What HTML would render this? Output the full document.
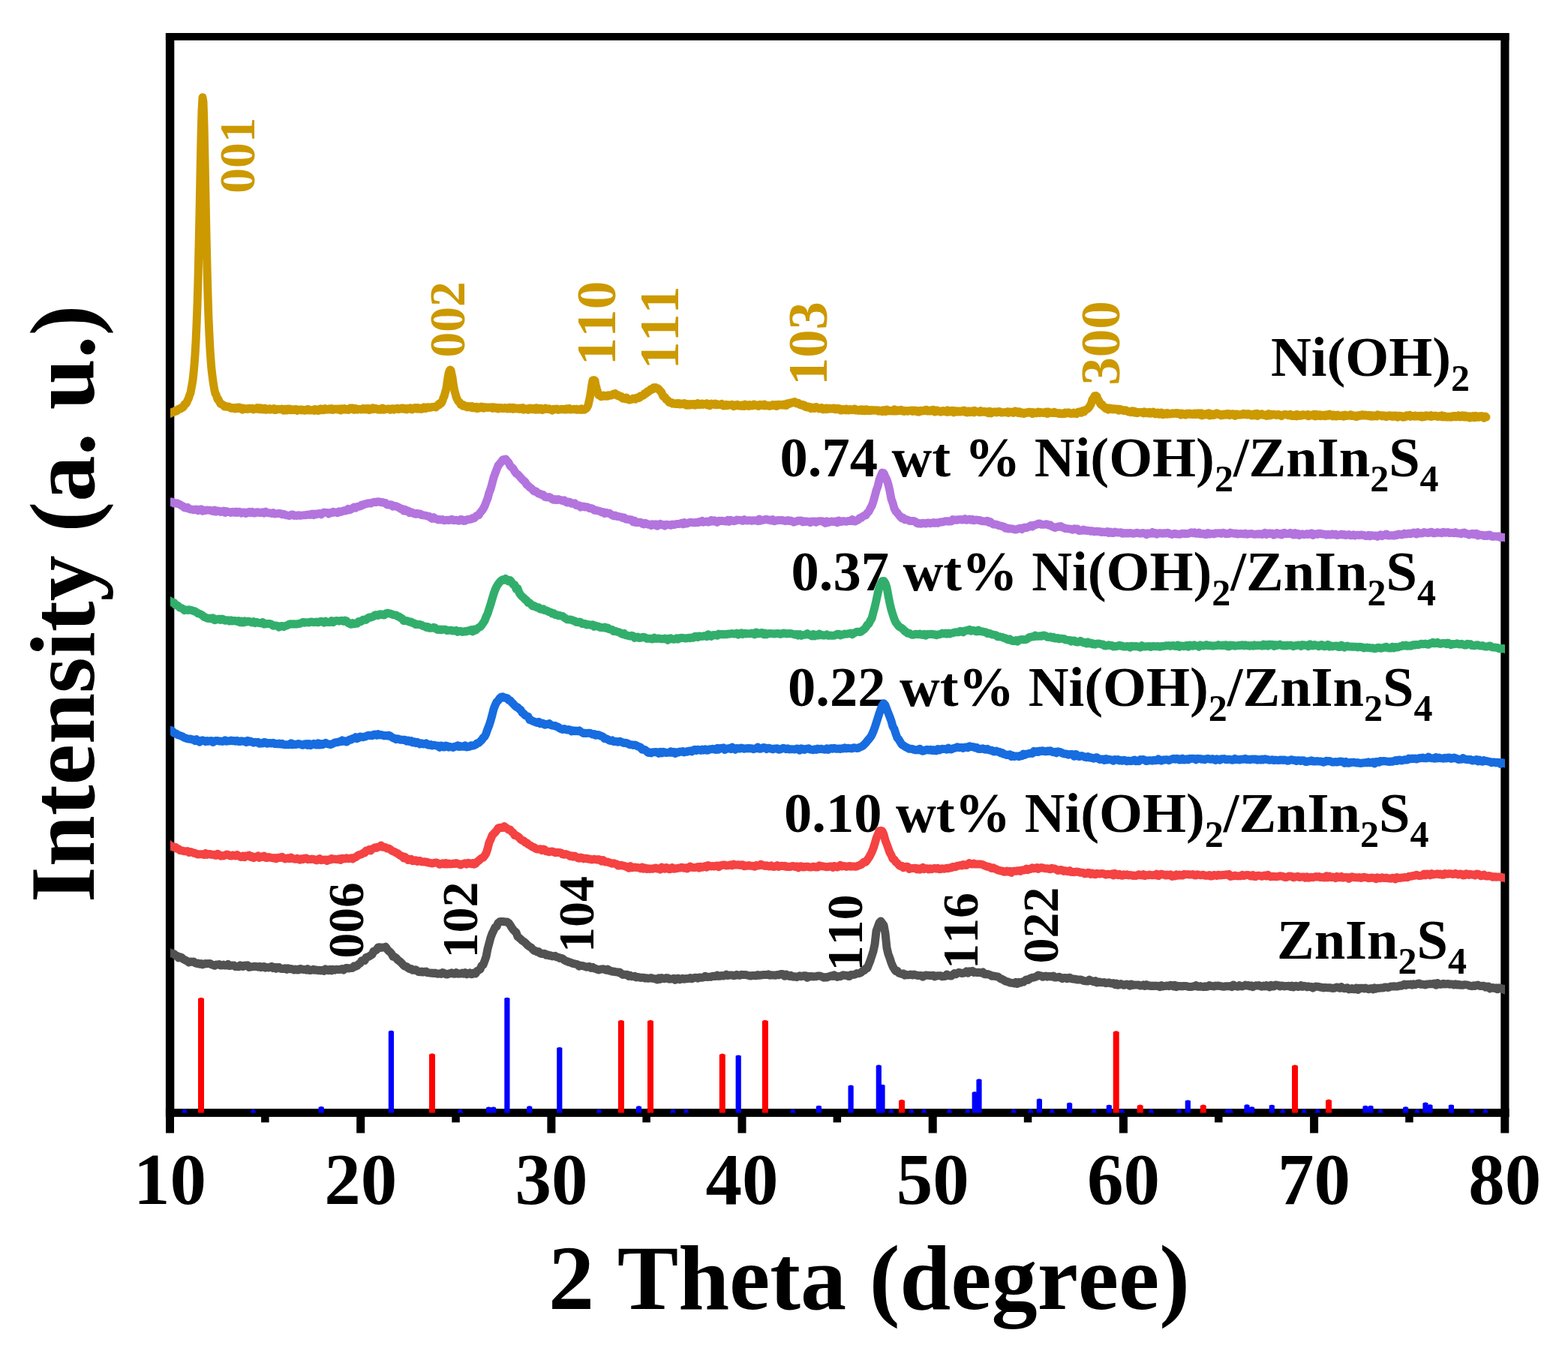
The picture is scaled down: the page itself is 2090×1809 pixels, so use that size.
<!DOCTYPE html>
<html><head><meta charset="utf-8"><title>XRD patterns of Ni(OH)2/ZnIn2S4</title>
<style>
html,body{margin:0;padding:0;background:#fff;width:2090px;height:1809px;overflow:hidden}
svg{display:block}
text{font-family:"Liberation Serif","Times New Roman",serif;font-weight:bold;font-kerning:none}
</style></head><body>
<svg width="2090" height="1809" viewBox="0 0 2090 1809" xmlns="http://www.w3.org/2000/svg">
<rect width="2090" height="1809" fill="#fff"/>
<g font-size="97" text-anchor="middle">
<text x="226.5" y="1605">10</text>
<text x="480.7" y="1605">20</text>
<text x="734.9" y="1605">30</text>
<text x="989" y="1605">40</text>
<text x="1243.2" y="1605">50</text>
<text x="1497.4" y="1605">60</text>
<text x="1751.6" y="1605">70</text>
<text x="2005.8" y="1605">80</text>
</g>
<text x="731" y="1745" font-size="122.2">2 Theta (degree)</text>
<text transform="translate(125.4,1203) rotate(-90)" font-size="122.5">Intensity (a. u.)</text>
<g font-size="74.5">
<text x="1694" y="500.6">Ni(OH)<tspan font-size="50" dy="20">2</tspan></text>
<text x="1039.5" y="635">0.74 wt % Ni(OH)<tspan font-size="50" dy="20">2</tspan><tspan dy="-20">/ZnIn</tspan><tspan font-size="50" dy="20">2</tspan><tspan dy="-20">S</tspan><tspan font-size="50" dy="20">4</tspan></text>
<text x="1054.5" y="787">0.37 wt% Ni(OH)<tspan font-size="50" dy="20">2</tspan><tspan dy="-20">/ZnIn</tspan><tspan font-size="50" dy="20">2</tspan><tspan dy="-20">S</tspan><tspan font-size="50" dy="20">4</tspan></text>
<text x="1050" y="941">0.22 wt% Ni(OH)<tspan font-size="50" dy="20">2</tspan><tspan dy="-20">/ZnIn</tspan><tspan font-size="50" dy="20">2</tspan><tspan dy="-20">S</tspan><tspan font-size="50" dy="20">4</tspan></text>
<text x="1045" y="1108.7">0.10 wt% Ni(OH)<tspan font-size="50" dy="20">2</tspan><tspan dy="-20">/ZnIn</tspan><tspan font-size="50" dy="20">2</tspan><tspan dy="-20">S</tspan><tspan font-size="50" dy="20">4</tspan></text>
<text x="1702" y="1278">ZnIn<tspan font-size="50" dy="20">2</tspan><tspan dy="-20">S</tspan><tspan font-size="50" dy="20">4</tspan></text>
</g>
<g fill="#CC9900">
<text transform="translate(338.5,257.7) rotate(-90)" font-size="67.5">001</text>
<text transform="translate(618.5,476.4) rotate(-90)" font-size="67.5">002</text>
<text transform="translate(819.5,487.2) rotate(-90)" font-size="75">110</text>
<text transform="translate(904.4,492.6) rotate(-90)" font-size="74">111</text>
<text transform="translate(1101.5,514.1) rotate(-90)" font-size="74.5">103</text>
<text transform="translate(1491.7,513.7) rotate(-90)" font-size="75">300</text>
</g>
<g fill="#000">
<text transform="translate(484,1277.4) rotate(-90)" font-size="67.5">006</text>
<text transform="translate(635.5,1277.5) rotate(-90)" font-size="68">102</text>
<text transform="translate(791,1270.1) rotate(-90)" font-size="68">104</text>
<text transform="translate(1148.5,1294.5) rotate(-90)" font-size="68">110</text>
<text transform="translate(1303,1292.1) rotate(-90)" font-size="68">116</text>
<text transform="translate(1410,1284.6) rotate(-90)" font-size="68">022</text>
</g>
<g fill="#000">
<rect x="220.9" y="44" width="1790.6" height="9.8"/>
<rect x="220.9" y="1478" width="1790.6" height="10.9"/>
<rect x="220.9" y="44" width="11.4" height="1444.9"/>
<rect x="2000.3" y="44" width="11.2" height="1444.9"/>
</g>
<g fill="#000">
<rect x="221" y="1486" width="11" height="24.5"/>
<rect x="475.2" y="1486" width="11" height="24.5"/>
<rect x="729.4" y="1486" width="11" height="24.5"/>
<rect x="983.5" y="1486" width="11" height="24.5"/>
<rect x="1237.7" y="1486" width="11" height="24.5"/>
<rect x="1491.9" y="1486" width="11" height="24.5"/>
<rect x="1746.1" y="1486" width="11" height="24.5"/>
<rect x="2000.3" y="1486" width="11" height="24.5"/>
<rect x="348.1" y="1486" width="10.5" height="10.3"/>
<rect x="602.3" y="1486" width="10.5" height="10.3"/>
<rect x="856.4" y="1486" width="10.5" height="10.3"/>
<rect x="1110.6" y="1486" width="10.5" height="10.3"/>
<rect x="1364.8" y="1486" width="10.5" height="10.3"/>
<rect x="1619.0" y="1486" width="10.5" height="10.3"/>
<rect x="1873.2" y="1486" width="10.5" height="10.3"/>
</g>
<clipPath id="pc"><rect x="227" y="0" width="1779" height="1809"/></clipPath>
<g fill="none" stroke-width="11" stroke-linejoin="round" stroke-linecap="round" clip-path="url(#pc)">
<path d="M220.0 551.9L221.0 551.9L222.0 551.3L223.0 550.6L224.0 550.7L225.0 550.1L226.0 550.6L227.0 551.3L228.0 549.7L229.0 549.4L230.0 549.8L231.0 549.5L232.0 549.0L233.0 547.9L234.0 548.2L235.0 548.3L236.0 546.5L237.0 546.7L238.0 545.3L239.0 545.2L240.0 544.3L241.0 544.8L242.0 543.4L243.0 543.7L244.0 542.8L245.0 541.6L246.0 539.1L247.0 539.1L248.0 538.0L249.0 536.5L250.0 533.5L251.0 532.0L252.0 529.1L253.0 526.1L254.0 523.7L255.0 517.9L256.0 512.9L257.0 506.6L258.0 497.1L259.0 486.6L260.0 473.2L261.0 456.0L262.0 433.4L263.0 406.9L264.0 373.7L265.0 330.5L266.0 284.5L267.0 232.7L268.0 183.5L269.0 147.9L270.0 129.8L271.0 135.9L272.0 167.0L273.0 212.6L274.0 263.1L275.0 313.3L276.0 356.6L277.0 394.0L278.0 424.4L279.0 446.7L280.0 466.1L281.0 480.5L282.0 492.6L283.0 500.9L284.0 508.7L285.0 514.9L286.0 520.5L287.0 524.6L288.0 526.0L289.0 529.0L290.0 532.2L291.0 532.2L292.0 534.8L293.0 536.3L294.0 538.4L295.0 538.9L296.0 539.0L297.0 539.6L298.0 540.3L299.0 542.0L300.0 541.1L301.0 541.5L302.0 542.3L303.0 542.3L304.0 542.5L305.0 542.0L306.0 543.0L307.0 542.9L308.0 544.2L309.0 543.9L310.0 543.6L311.0 544.2L312.0 543.6L313.0 544.7L314.0 544.0L315.0 544.5L316.0 543.3L317.0 544.5L318.0 543.2L319.0 543.0L320.0 544.3L321.0 543.9L322.0 544.7L323.0 546.2L324.0 544.1L325.0 544.3L326.0 544.9L327.0 545.2L328.0 544.7L329.0 544.7L330.0 545.4L331.0 545.3L332.0 544.3L333.0 544.9L334.0 545.0L335.0 544.3L336.0 545.2L337.0 544.5L338.0 545.8L339.0 545.3L340.0 545.2L341.0 544.7L342.0 545.1L343.0 543.8L344.0 544.4L345.0 545.5L346.0 543.7L347.0 545.8L348.0 544.0L349.0 545.8L350.0 544.7L351.0 545.8L352.0 545.4L353.0 544.2L354.0 546.2L355.0 546.3L356.0 545.3L357.0 545.2L358.0 545.3L359.0 544.7L360.0 546.2L361.0 545.1L362.0 545.5L363.0 545.0L364.0 545.1L365.0 544.7L366.0 546.5L367.0 545.5L368.0 546.3L369.0 545.7L370.0 545.2L371.0 545.5L372.0 545.4L373.0 545.8L374.0 545.6L375.0 545.7L376.0 545.0L377.0 545.4L378.0 547.2L379.0 545.6L380.0 545.3L381.0 546.3L382.0 547.1L383.0 545.1L384.0 546.0L385.0 545.8L386.0 545.0L387.0 546.8L388.0 546.3L389.0 546.4L390.0 545.8L391.0 546.7L392.0 546.0L393.0 546.3L394.0 545.6L395.0 545.6L396.0 547.4L397.0 546.1L398.0 546.6L399.0 546.4L400.0 546.1L401.0 546.1L402.0 546.9L403.0 546.2L404.0 546.3L405.0 546.5L406.0 547.3L407.0 546.9L408.0 546.7L409.0 546.0L410.0 545.4L411.0 547.1L412.0 547.1L413.0 546.3L414.0 546.8L415.0 546.9L416.0 546.9L417.0 547.0L418.0 546.0L419.0 547.4L420.0 545.4L421.0 546.9L422.0 546.6L423.0 546.9L424.0 547.6L425.0 547.3L426.0 545.4L427.0 545.0L428.0 546.8L429.0 545.5L430.0 546.1L431.0 546.7L432.0 545.0L433.0 544.6L434.0 546.3L435.0 546.1L436.0 545.9L437.0 546.0L438.0 545.4L439.0 544.9L440.0 545.8L441.0 545.3L442.0 544.8L443.0 546.3L444.0 545.8L445.0 546.1L446.0 545.2L447.0 545.4L448.0 545.1L449.0 545.2L450.0 545.9L451.0 545.2L452.0 546.0L453.0 546.0L454.0 547.1L455.0 544.7L456.0 546.3L457.0 545.6L458.0 545.6L459.0 544.6L460.0 545.3L461.0 546.1L462.0 545.5L463.0 545.6L464.0 545.3L465.0 546.3L466.0 545.5L467.0 544.0L468.0 545.0L469.0 544.1L470.0 543.9L471.0 545.1L472.0 546.4L473.0 545.5L474.0 544.6L475.0 544.8L476.0 546.2L477.0 545.5L478.0 545.4L479.0 545.4L480.0 545.4L481.0 546.0L482.0 545.8L483.0 545.5L484.0 544.6L485.0 545.7L486.0 544.9L487.0 546.1L488.0 544.5L489.0 545.2L490.0 545.3L491.0 544.4L492.0 546.5L493.0 546.3L494.0 545.0L495.0 545.8L496.0 545.6L497.0 543.7L498.0 545.5L499.0 545.2L500.0 545.3L501.0 544.5L502.0 545.1L503.0 545.1L504.0 546.1L505.0 545.5L506.0 545.2L507.0 546.3L508.0 544.8L509.0 544.9L510.0 543.9L511.0 546.3L512.0 545.9L513.0 545.8L514.0 545.7L515.0 545.3L516.0 545.3L517.0 545.0L518.0 545.0L519.0 545.2L520.0 546.2L521.0 545.5L522.0 545.1L523.0 544.7L524.0 544.7L525.0 546.2L526.0 545.4L527.0 545.1L528.0 544.8L529.0 544.3L530.0 545.0L531.0 545.6L532.0 544.7L533.0 544.9L534.0 544.8L535.0 545.1L536.0 543.9L537.0 544.8L538.0 544.3L539.0 545.5L540.0 544.4L541.0 545.3L542.0 545.9L543.0 544.6L544.0 544.4L545.0 544.9L546.0 544.8L547.0 544.0L548.0 545.0L549.0 546.1L550.0 544.4L551.0 544.4L552.0 543.8L553.0 544.7L554.0 543.6L555.0 543.6L556.0 545.2L557.0 543.6L558.0 545.0L559.0 545.2L560.0 544.3L561.0 544.4L562.0 545.4L563.0 543.8L564.0 543.5L565.0 542.9L566.0 543.8L567.0 544.7L568.0 544.3L569.0 542.9L570.0 542.8L571.0 543.0L572.0 543.5L573.0 543.0L574.0 543.2L575.0 543.1L576.0 542.6L577.0 542.6L578.0 542.6L579.0 542.2L580.0 542.3L581.0 543.0L582.0 541.7L583.0 540.9L584.0 539.2L585.0 540.1L586.0 537.7L587.0 537.1L588.0 537.6L589.0 536.1L590.0 533.7L591.0 530.3L592.0 528.5L593.0 524.8L594.0 521.4L595.0 517.4L596.0 510.2L597.0 503.5L598.0 497.7L599.0 494.6L600.0 493.1L601.0 493.8L602.0 498.6L603.0 503.2L604.0 510.8L605.0 516.5L606.0 521.6L607.0 524.8L608.0 528.9L609.0 531.3L610.0 533.3L611.0 535.1L612.0 535.8L613.0 536.9L614.0 539.3L615.0 539.4L616.0 540.2L617.0 541.3L618.0 539.8L619.0 540.8L620.0 541.7L621.0 542.1L622.0 541.7L623.0 542.9L624.0 542.5L625.0 541.6L626.0 541.9L627.0 543.2L628.0 543.1L629.0 541.5L630.0 543.8L631.0 543.3L632.0 543.9L633.0 542.7L634.0 542.8L635.0 542.3L636.0 544.7L637.0 543.0L638.0 544.3L639.0 542.8L640.0 543.4L641.0 542.1L642.0 543.1L643.0 544.0L644.0 542.5L645.0 544.2L646.0 543.7L647.0 542.7L648.0 543.1L649.0 543.2L650.0 543.5L651.0 543.2L652.0 543.0L653.0 543.4L654.0 542.9L655.0 542.8L656.0 543.7L657.0 544.4L658.0 542.7L659.0 543.8L660.0 543.4L661.0 543.2L662.0 544.5L663.0 543.6L664.0 545.0L665.0 543.4L666.0 544.3L667.0 543.9L668.0 543.6L669.0 544.5L670.0 544.0L671.0 544.6L672.0 544.2L673.0 543.5L674.0 544.2L675.0 544.3L676.0 545.0L677.0 543.7L678.0 544.4L679.0 543.2L680.0 544.9L681.0 543.7L682.0 543.3L683.0 544.5L684.0 545.4L685.0 543.5L686.0 543.9L687.0 544.1L688.0 543.9L689.0 545.0L690.0 544.2L691.0 544.3L692.0 545.2L693.0 544.3L694.0 545.2L695.0 544.2L696.0 544.0L697.0 543.6L698.0 546.2L699.0 544.7L700.0 545.2L701.0 545.0L702.0 545.1L703.0 545.1L704.0 546.4L705.0 544.4L706.0 544.0L707.0 544.4L708.0 544.2L709.0 545.7L710.0 545.8L711.0 544.5L712.0 544.3L713.0 545.0L714.0 546.3L715.0 543.7L716.0 545.7L717.0 544.6L718.0 546.1L719.0 544.6L720.0 545.2L721.0 544.4L722.0 544.8L723.0 546.5L724.0 546.1L725.0 545.2L726.0 544.9L727.0 544.2L728.0 545.3L729.0 545.6L730.0 545.6L731.0 545.6L732.0 544.9L733.0 545.6L734.0 545.7L735.0 546.6L736.0 547.1L737.0 545.7L738.0 545.2L739.0 545.8L740.0 545.4L741.0 545.3L742.0 545.8L743.0 545.1L744.0 546.3L745.0 545.8L746.0 546.1L747.0 545.8L748.0 545.4L749.0 545.3L750.0 545.8L751.0 545.6L752.0 546.1L753.0 546.0L754.0 545.0L755.0 546.0L756.0 545.0L757.0 545.6L758.0 545.8L759.0 544.5L760.0 546.1L761.0 546.1L762.0 545.9L763.0 545.7L764.0 545.7L765.0 545.3L766.0 545.8L767.0 545.6L768.0 546.1L769.0 545.2L770.0 546.2L771.0 546.1L772.0 545.9L773.0 545.7L774.0 546.4L775.0 544.8L776.0 546.3L777.0 546.2L778.0 546.2L779.0 546.3L780.0 545.2L781.0 544.7L782.0 544.0L783.0 542.2L784.0 540.1L785.0 535.4L786.0 531.2L787.0 525.8L788.0 519.3L789.0 512.4L790.0 507.1L791.0 506.7L792.0 506.8L793.0 507.4L794.0 513.2L795.0 517.1L796.0 520.5L797.0 523.6L798.0 526.9L799.0 526.7L800.0 527.5L801.0 528.7L802.0 528.8L803.0 527.7L804.0 527.8L805.0 527.1L806.0 527.5L807.0 528.2L808.0 528.1L809.0 527.7L810.0 528.1L811.0 526.7L812.0 527.0L813.0 527.3L814.0 526.9L815.0 527.0L816.0 526.2L817.0 525.5L818.0 525.8L819.0 524.8L820.0 524.5L821.0 526.4L822.0 526.4L823.0 527.3L824.0 526.6L825.0 528.2L826.0 528.7L827.0 529.0L828.0 528.4L829.0 530.0L830.0 531.2L831.0 531.1L832.0 530.6L833.0 531.3L834.0 532.0L835.0 530.0L836.0 531.7L837.0 532.3L838.0 532.5L839.0 533.2L840.0 532.8L841.0 532.1L842.0 532.0L843.0 532.2L844.0 531.1L845.0 531.2L846.0 531.7L847.0 532.2L848.0 530.4L849.0 530.2L850.0 530.1L851.0 530.6L852.0 529.3L853.0 529.9L854.0 527.8L855.0 527.8L856.0 527.2L857.0 527.3L858.0 526.9L859.0 524.5L860.0 524.4L861.0 524.6L862.0 523.1L863.0 521.7L864.0 522.6L865.0 521.4L866.0 520.6L867.0 519.2L868.0 519.7L869.0 518.3L870.0 518.7L871.0 516.8L872.0 516.5L873.0 517.1L874.0 516.6L875.0 517.9L876.0 518.0L877.0 517.8L878.0 519.0L879.0 519.6L880.0 521.6L881.0 521.9L882.0 523.5L883.0 526.2L884.0 528.3L885.0 529.4L886.0 529.2L887.0 530.5L888.0 532.7L889.0 532.8L890.0 533.4L891.0 535.2L892.0 536.4L893.0 536.3L894.0 536.2L895.0 536.6L896.0 538.2L897.0 537.2L898.0 537.8L899.0 538.1L900.0 538.4L901.0 537.8L902.0 538.5L903.0 537.6L904.0 538.0L905.0 537.6L906.0 539.1L907.0 538.4L908.0 537.9L909.0 538.2L910.0 538.4L911.0 539.0L912.0 537.5L913.0 537.9L914.0 538.4L915.0 540.3L916.0 539.4L917.0 538.6L918.0 539.2L919.0 540.2L920.0 538.6L921.0 538.5L922.0 539.7L923.0 539.2L924.0 539.3L925.0 538.5L926.0 540.2L927.0 540.1L928.0 539.3L929.0 539.5L930.0 537.6L931.0 539.5L932.0 538.9L933.0 539.4L934.0 539.6L935.0 538.9L936.0 538.0L937.0 539.4L938.0 538.7L939.0 539.0L940.0 538.8L941.0 539.0L942.0 537.7L943.0 540.1L944.0 539.5L945.0 540.1L946.0 540.7L947.0 539.4L948.0 538.1L949.0 538.8L950.0 538.6L951.0 539.1L952.0 539.5L953.0 538.1L954.0 539.7L955.0 538.4L956.0 539.7L957.0 539.5L958.0 539.3L959.0 539.5L960.0 539.2L961.0 539.2L962.0 538.5L963.0 539.6L964.0 541.0L965.0 541.1L966.0 540.7L967.0 540.3L968.0 539.3L969.0 540.8L970.0 539.8L971.0 539.8L972.0 539.7L973.0 540.0L974.0 539.7L975.0 539.9L976.0 539.3L977.0 539.8L978.0 541.7L979.0 540.1L980.0 540.0L981.0 540.6L982.0 540.7L983.0 539.5L984.0 540.1L985.0 540.9L986.0 540.5L987.0 540.4L988.0 541.4L989.0 539.9L990.0 540.5L991.0 540.1L992.0 541.5L993.0 539.1L994.0 540.0L995.0 540.1L996.0 540.9L997.0 540.9L998.0 541.5L999.0 539.4L1000.0 541.0L1001.0 540.3L1002.0 540.0L1003.0 540.9L1004.0 539.9L1005.0 539.0L1006.0 540.2L1007.0 539.5L1008.0 540.0L1009.0 540.8L1010.0 540.7L1011.0 541.6L1012.0 540.4L1013.0 539.4L1014.0 540.0L1015.0 539.9L1016.0 539.6L1017.0 540.8L1018.0 540.0L1019.0 539.1L1020.0 541.0L1021.0 540.4L1022.0 540.7L1023.0 540.6L1024.0 540.9L1025.0 540.5L1026.0 541.4L1027.0 540.8L1028.0 540.8L1029.0 540.8L1030.0 539.5L1031.0 540.4L1032.0 540.3L1033.0 540.6L1034.0 539.5L1035.0 541.6L1036.0 540.6L1037.0 539.6L1038.0 539.2L1039.0 540.1L1040.0 540.1L1041.0 539.6L1042.0 540.0L1043.0 539.3L1044.0 540.0L1045.0 539.0L1046.0 539.3L1047.0 539.8L1048.0 540.6L1049.0 538.1L1050.0 538.3L1051.0 537.7L1052.0 538.6L1053.0 537.0L1054.0 537.2L1055.0 537.3L1056.0 536.4L1057.0 536.3L1058.0 536.7L1059.0 535.6L1060.0 536.3L1061.0 537.2L1062.0 537.9L1063.0 538.0L1064.0 537.2L1065.0 538.4L1066.0 539.6L1067.0 539.7L1068.0 539.5L1069.0 539.3L1070.0 540.7L1071.0 540.2L1072.0 540.1L1073.0 540.7L1074.0 542.6L1075.0 542.0L1076.0 543.0L1077.0 542.1L1078.0 543.3L1079.0 542.4L1080.0 542.9L1081.0 544.7L1082.0 543.8L1083.0 543.0L1084.0 543.3L1085.0 543.7L1086.0 544.4L1087.0 543.3L1088.0 542.5L1089.0 543.6L1090.0 543.9L1091.0 544.0L1092.0 544.9L1093.0 544.2L1094.0 544.6L1095.0 543.4L1096.0 544.8L1097.0 545.7L1098.0 544.8L1099.0 544.5L1100.0 544.5L1101.0 545.7L1102.0 543.9L1103.0 544.5L1104.0 544.9L1105.0 545.2L1106.0 544.4L1107.0 545.0L1108.0 544.6L1109.0 545.0L1110.0 544.9L1111.0 544.2L1112.0 545.0L1113.0 545.7L1114.0 544.5L1115.0 545.1L1116.0 545.7L1117.0 544.6L1118.0 545.5L1119.0 544.7L1120.0 546.3L1121.0 547.1L1122.0 547.0L1123.0 545.5L1124.0 546.2L1125.0 545.8L1126.0 545.9L1127.0 546.9L1128.0 545.0L1129.0 546.7L1130.0 545.9L1131.0 547.0L1132.0 546.2L1133.0 545.6L1134.0 546.4L1135.0 546.7L1136.0 546.3L1137.0 546.6L1138.0 546.0L1139.0 544.9L1140.0 547.0L1141.0 546.9L1142.0 546.6L1143.0 546.6L1144.0 547.3L1145.0 546.3L1146.0 546.1L1147.0 546.5L1148.0 547.5L1149.0 545.8L1150.0 547.6L1151.0 546.3L1152.0 546.0L1153.0 547.7L1154.0 546.8L1155.0 546.0L1156.0 546.7L1157.0 547.6L1158.0 547.8L1159.0 546.7L1160.0 547.3L1161.0 547.5L1162.0 546.6L1163.0 547.3L1164.0 547.0L1165.0 546.7L1166.0 546.8L1167.0 547.2L1168.0 547.2L1169.0 546.8L1170.0 546.9L1171.0 548.0L1172.0 547.3L1173.0 547.8L1174.0 548.1L1175.0 547.6L1176.0 548.8L1177.0 546.7L1178.0 547.8L1179.0 547.1L1180.0 548.6L1181.0 548.5L1182.0 546.0L1183.0 546.7L1184.0 547.8L1185.0 547.9L1186.0 547.9L1187.0 547.3L1188.0 547.7L1189.0 547.9L1190.0 547.4L1191.0 548.1L1192.0 545.8L1193.0 547.9L1194.0 546.7L1195.0 548.1L1196.0 547.3L1197.0 546.9L1198.0 547.7L1199.0 546.9L1200.0 546.9L1201.0 546.4L1202.0 547.5L1203.0 547.9L1204.0 548.3L1205.0 547.4L1206.0 548.3L1207.0 547.6L1208.0 547.5L1209.0 548.0L1210.0 548.3L1211.0 547.4L1212.0 547.4L1213.0 547.5L1214.0 547.7L1215.0 547.0L1216.0 548.4L1217.0 547.4L1218.0 548.0L1219.0 547.1L1220.0 547.9L1221.0 548.0L1222.0 547.4L1223.0 549.1L1224.0 548.0L1225.0 549.0L1226.0 548.4L1227.0 547.3L1228.0 547.5L1229.0 548.1L1230.0 547.8L1231.0 547.8L1232.0 547.6L1233.0 546.5L1234.0 547.6L1235.0 546.3L1236.0 548.1L1237.0 547.3L1238.0 547.3L1239.0 547.7L1240.0 548.1L1241.0 546.9L1242.0 546.7L1243.0 547.2L1244.0 546.5L1245.0 547.3L1246.0 549.1L1247.0 547.2L1248.0 548.4L1249.0 547.0L1250.0 548.2L1251.0 547.8L1252.0 548.0L1253.0 548.4L1254.0 549.3L1255.0 548.2L1256.0 548.2L1257.0 547.4L1258.0 548.5L1259.0 548.0L1260.0 548.7L1261.0 548.1L1262.0 549.4L1263.0 546.8L1264.0 548.0L1265.0 548.9L1266.0 548.0L1267.0 547.7L1268.0 548.1L1269.0 547.3L1270.0 548.4L1271.0 549.9L1272.0 549.2L1273.0 547.6L1274.0 547.8L1275.0 548.1L1276.0 549.1L1277.0 547.9L1278.0 548.0L1279.0 549.1L1280.0 549.1L1281.0 548.3L1282.0 547.8L1283.0 547.5L1284.0 548.1L1285.0 547.1L1286.0 549.2L1287.0 548.2L1288.0 549.0L1289.0 550.0L1290.0 549.5L1291.0 547.9L1292.0 549.4L1293.0 549.6L1294.0 548.3L1295.0 548.1L1296.0 548.8L1297.0 547.7L1298.0 549.9L1299.0 547.3L1300.0 548.1L1301.0 548.7L1302.0 548.8L1303.0 549.1L1304.0 549.2L1305.0 548.9L1306.0 549.8L1307.0 547.5L1308.0 549.1L1309.0 548.6L1310.0 549.2L1311.0 549.3L1312.0 548.5L1313.0 548.7L1314.0 549.7L1315.0 549.4L1316.0 548.7L1317.0 550.6L1318.0 550.8L1319.0 548.2L1320.0 549.5L1321.0 550.9L1322.0 549.8L1323.0 549.5L1324.0 549.2L1325.0 549.0L1326.0 549.2L1327.0 549.0L1328.0 549.9L1329.0 549.1L1330.0 549.1L1331.0 548.6L1332.0 549.4L1333.0 548.8L1334.0 549.3L1335.0 550.2L1336.0 549.8L1337.0 549.9L1338.0 549.8L1339.0 549.6L1340.0 549.5L1341.0 549.4L1342.0 550.1L1343.0 548.8L1344.0 550.5L1345.0 549.6L1346.0 549.1L1347.0 549.3L1348.0 549.2L1349.0 549.8L1350.0 549.2L1351.0 550.5L1352.0 549.2L1353.0 548.1L1354.0 549.2L1355.0 548.4L1356.0 549.7L1357.0 550.5L1358.0 550.3L1359.0 548.9L1360.0 549.3L1361.0 551.1L1362.0 550.1L1363.0 549.9L1364.0 550.6L1365.0 551.5L1366.0 550.8L1367.0 550.0L1368.0 550.2L1369.0 550.4L1370.0 549.5L1371.0 549.2L1372.0 550.0L1373.0 549.3L1374.0 550.0L1375.0 550.1L1376.0 551.7L1377.0 549.5L1378.0 550.0L1379.0 550.0L1380.0 550.4L1381.0 550.9L1382.0 549.8L1383.0 549.6L1384.0 549.0L1385.0 549.5L1386.0 550.6L1387.0 550.3L1388.0 549.5L1389.0 550.0L1390.0 550.3L1391.0 550.6L1392.0 549.9L1393.0 550.1L1394.0 549.1L1395.0 549.5L1396.0 551.5L1397.0 548.9L1398.0 550.2L1399.0 550.6L1400.0 550.2L1401.0 549.9L1402.0 550.4L1403.0 550.5L1404.0 550.5L1405.0 549.2L1406.0 550.5L1407.0 550.0L1408.0 550.3L1409.0 550.8L1410.0 551.1L1411.0 551.4L1412.0 550.4L1413.0 551.4L1414.0 551.6L1415.0 551.6L1416.0 551.8L1417.0 550.8L1418.0 550.8L1419.0 551.5L1420.0 550.0L1421.0 551.1L1422.0 550.6L1423.0 550.7L1424.0 549.8L1425.0 550.4L1426.0 551.0L1427.0 551.6L1428.0 551.6L1429.0 550.9L1430.0 550.7L1431.0 550.2L1432.0 551.1L1433.0 550.5L1434.0 551.0L1435.0 551.7L1436.0 550.4L1437.0 549.2L1438.0 549.5L1439.0 548.9L1440.0 548.8L1441.0 550.3L1442.0 549.3L1443.0 547.7L1444.0 548.9L1445.0 548.9L1446.0 547.2L1447.0 546.4L1448.0 545.9L1449.0 545.5L1450.0 544.7L1451.0 543.9L1452.0 542.5L1453.0 540.8L1454.0 539.0L1455.0 536.3L1456.0 532.6L1457.0 531.4L1458.0 529.8L1459.0 527.9L1460.0 528.3L1461.0 527.7L1462.0 528.4L1463.0 531.7L1464.0 533.1L1465.0 534.7L1466.0 537.1L1467.0 538.8L1468.0 539.8L1469.0 539.1L1470.0 541.2L1471.0 542.2L1472.0 542.4L1473.0 543.7L1474.0 544.8L1475.0 544.0L1476.0 543.8L1477.0 546.2L1478.0 544.6L1479.0 544.2L1480.0 545.3L1481.0 545.5L1482.0 544.8L1483.0 545.9L1484.0 545.0L1485.0 544.8L1486.0 545.6L1487.0 546.0L1488.0 545.1L1489.0 545.8L1490.0 545.5L1491.0 547.2L1492.0 545.2L1493.0 546.8L1494.0 545.9L1495.0 546.0L1496.0 546.8L1497.0 547.1L1498.0 547.6L1499.0 547.1L1500.0 546.7L1501.0 547.0L1502.0 547.9L1503.0 548.2L1504.0 549.0L1505.0 548.5L1506.0 549.1L1507.0 549.6L1508.0 548.8L1509.0 547.8L1510.0 548.1L1511.0 548.0L1512.0 550.2L1513.0 548.5L1514.0 550.1L1515.0 549.7L1516.0 550.6L1517.0 550.1L1518.0 549.4L1519.0 549.4L1520.0 549.7L1521.0 549.8L1522.0 549.4L1523.0 549.8L1524.0 551.0L1525.0 548.8L1526.0 550.2L1527.0 549.4L1528.0 550.3L1529.0 550.8L1530.0 550.2L1531.0 550.9L1532.0 549.3L1533.0 551.2L1534.0 550.1L1535.0 551.0L1536.0 550.7L1537.0 549.0L1538.0 550.1L1539.0 550.9L1540.0 551.9L1541.0 551.0L1542.0 551.0L1543.0 549.9L1544.0 552.0L1545.0 552.3L1546.0 551.1L1547.0 550.9L1548.0 550.0L1549.0 551.8L1550.0 552.8L1551.0 551.7L1552.0 552.2L1553.0 551.7L1554.0 550.7L1555.0 552.3L1556.0 550.6L1557.0 551.3L1558.0 551.7L1559.0 552.1L1560.0 551.8L1561.0 551.8L1562.0 551.1L1563.0 550.7L1564.0 551.7L1565.0 551.2L1566.0 550.8L1567.0 550.8L1568.0 551.4L1569.0 550.5L1570.0 550.9L1571.0 550.7L1572.0 552.0L1573.0 552.2L1574.0 553.3L1575.0 550.9L1576.0 551.5L1577.0 552.6L1578.0 551.8L1579.0 551.7L1580.0 553.2L1581.0 551.8L1582.0 551.2L1583.0 551.1L1584.0 552.3L1585.0 552.3L1586.0 551.1L1587.0 551.4L1588.0 552.5L1589.0 552.5L1590.0 551.7L1591.0 552.6L1592.0 552.6L1593.0 550.9L1594.0 552.0L1595.0 552.5L1596.0 551.8L1597.0 550.7L1598.0 552.0L1599.0 552.8L1600.0 553.4L1601.0 550.7L1602.0 553.9L1603.0 551.5L1604.0 553.0L1605.0 553.2L1606.0 553.0L1607.0 552.4L1608.0 551.5L1609.0 552.8L1610.0 551.9L1611.0 550.8L1612.0 554.0L1613.0 552.9L1614.0 553.7L1615.0 551.8L1616.0 553.4L1617.0 553.5L1618.0 553.5L1619.0 552.4L1620.0 551.6L1621.0 552.3L1622.0 550.9L1623.0 551.3L1624.0 552.5L1625.0 551.8L1626.0 552.4L1627.0 552.4L1628.0 553.9L1629.0 553.4L1630.0 552.5L1631.0 553.4L1632.0 552.0L1633.0 552.3L1634.0 553.2L1635.0 551.7L1636.0 552.4L1637.0 551.6L1638.0 552.7L1639.0 553.7L1640.0 552.1L1641.0 552.7L1642.0 552.0L1643.0 551.8L1644.0 551.7L1645.0 553.6L1646.0 554.2L1647.0 553.0L1648.0 552.1L1649.0 553.1L1650.0 552.4L1651.0 553.2L1652.0 552.9L1653.0 552.9L1654.0 553.1L1655.0 552.3L1656.0 552.4L1657.0 551.5L1658.0 552.4L1659.0 551.7L1660.0 552.6L1661.0 552.0L1662.0 552.8L1663.0 553.0L1664.0 551.7L1665.0 552.2L1666.0 552.1L1667.0 553.3L1668.0 554.0L1669.0 553.4L1670.0 552.5L1671.0 553.8L1672.0 551.7L1673.0 553.8L1674.0 552.3L1675.0 551.2L1676.0 554.4L1677.0 553.9L1678.0 552.1L1679.0 553.0L1680.0 552.7L1681.0 552.9L1682.0 551.8L1683.0 552.4L1684.0 553.2L1685.0 553.0L1686.0 553.7L1687.0 552.9L1688.0 554.5L1689.0 552.4L1690.0 553.1L1691.0 551.6L1692.0 552.1L1693.0 553.9L1694.0 552.3L1695.0 553.3L1696.0 552.9L1697.0 552.2L1698.0 552.7L1699.0 552.6L1700.0 552.7L1701.0 553.5L1702.0 553.5L1703.0 552.6L1704.0 552.4L1705.0 553.2L1706.0 553.0L1707.0 553.8L1708.0 554.7L1709.0 553.7L1710.0 553.1L1711.0 553.0L1712.0 552.5L1713.0 552.5L1714.0 552.4L1715.0 552.9L1716.0 552.9L1717.0 553.7L1718.0 552.9L1719.0 553.0L1720.0 552.3L1721.0 554.3L1722.0 553.6L1723.0 554.5L1724.0 553.8L1725.0 554.3L1726.0 553.1L1727.0 553.8L1728.0 554.9L1729.0 552.4L1730.0 554.1L1731.0 554.5L1732.0 553.6L1733.0 553.9L1734.0 554.2L1735.0 552.9L1736.0 553.6L1737.0 552.7L1738.0 552.9L1739.0 552.9L1740.0 553.3L1741.0 553.5L1742.0 553.7L1743.0 552.4L1744.0 554.8L1745.0 554.3L1746.0 554.0L1747.0 553.2L1748.0 553.4L1749.0 553.9L1750.0 553.8L1751.0 552.3L1752.0 554.0L1753.0 555.1L1754.0 552.2L1755.0 554.3L1756.0 553.8L1757.0 553.5L1758.0 554.6L1759.0 552.7L1760.0 553.7L1761.0 554.7L1762.0 553.5L1763.0 553.3L1764.0 553.7L1765.0 553.3L1766.0 554.8L1767.0 553.0L1768.0 554.3L1769.0 552.8L1770.0 554.2L1771.0 553.6L1772.0 552.1L1773.0 553.7L1774.0 553.0L1775.0 553.4L1776.0 554.9L1777.0 553.0L1778.0 553.0L1779.0 554.8L1780.0 553.9L1781.0 554.9L1782.0 554.1L1783.0 553.2L1784.0 553.8L1785.0 554.7L1786.0 554.5L1787.0 553.9L1788.0 553.9L1789.0 553.8L1790.0 553.5L1791.0 555.3L1792.0 553.9L1793.0 553.1L1794.0 553.6L1795.0 554.5L1796.0 554.4L1797.0 553.9L1798.0 553.5L1799.0 554.0L1800.0 552.8L1801.0 553.1L1802.0 554.6L1803.0 553.7L1804.0 554.3L1805.0 554.9L1806.0 554.5L1807.0 554.1L1808.0 555.6L1809.0 554.6L1810.0 553.8L1811.0 554.6L1812.0 554.4L1813.0 553.5L1814.0 554.2L1815.0 554.0L1816.0 552.7L1817.0 554.0L1818.0 554.0L1819.0 553.9L1820.0 553.0L1821.0 554.0L1822.0 554.2L1823.0 554.3L1824.0 553.4L1825.0 554.7L1826.0 553.4L1827.0 554.1L1828.0 555.2L1829.0 553.8L1830.0 553.9L1831.0 555.1L1832.0 554.1L1833.0 554.1L1834.0 554.5L1835.0 555.1L1836.0 552.8L1837.0 553.8L1838.0 553.7L1839.0 553.6L1840.0 553.8L1841.0 553.8L1842.0 554.7L1843.0 553.8L1844.0 554.5L1845.0 554.8L1846.0 554.0L1847.0 554.6L1848.0 555.7L1849.0 554.7L1850.0 554.1L1851.0 554.5L1852.0 553.9L1853.0 554.7L1854.0 555.2L1855.0 554.0L1856.0 554.4L1857.0 555.4L1858.0 554.2L1859.0 554.7L1860.0 553.9L1861.0 554.0L1862.0 554.3L1863.0 556.2L1864.0 554.4L1865.0 554.3L1866.0 554.3L1867.0 554.6L1868.0 555.2L1869.0 554.8L1870.0 556.2L1871.0 554.9L1872.0 555.8L1873.0 554.9L1874.0 555.2L1875.0 553.8L1876.0 554.7L1877.0 554.7L1878.0 554.6L1879.0 553.3L1880.0 555.4L1881.0 554.6L1882.0 554.5L1883.0 554.7L1884.0 554.7L1885.0 555.2L1886.0 554.0L1887.0 554.2L1888.0 555.1L1889.0 555.0L1890.0 554.7L1891.0 554.5L1892.0 554.3L1893.0 554.9L1894.0 555.8L1895.0 554.2L1896.0 556.0L1897.0 555.6L1898.0 554.7L1899.0 555.5L1900.0 554.0L1901.0 553.8L1902.0 554.1L1903.0 554.7L1904.0 554.8L1905.0 554.7L1906.0 555.1L1907.0 553.6L1908.0 555.4L1909.0 554.1L1910.0 554.6L1911.0 554.8L1912.0 554.3L1913.0 554.1L1914.0 554.4L1915.0 555.1L1916.0 555.5L1917.0 555.5L1918.0 554.4L1919.0 554.6L1920.0 554.5L1921.0 555.5L1922.0 553.7L1923.0 556.0L1924.0 554.9L1925.0 554.6L1926.0 555.4L1927.0 555.9L1928.0 555.5L1929.0 556.0L1930.0 555.3L1931.0 556.1L1932.0 556.1L1933.0 555.2L1934.0 556.3L1935.0 555.4L1936.0 555.3L1937.0 554.6L1938.0 555.1L1939.0 555.8L1940.0 554.4L1941.0 555.8L1942.0 555.6L1943.0 555.5L1944.0 553.8L1945.0 555.3L1946.0 555.8L1947.0 554.8L1948.0 555.4L1949.0 553.8L1950.0 555.8L1951.0 554.9L1952.0 556.0L1953.0 554.1L1954.0 555.9L1955.0 555.2L1956.0 556.0L1957.0 554.8L1958.0 555.0L1959.0 557.0L1960.0 554.9L1961.0 555.0L1962.0 555.3L1963.0 554.8L1964.0 556.3L1965.0 556.7L1966.0 555.0L1967.0 554.3L1968.0 556.3L1969.0 556.3L1970.0 556.1L1971.0 556.3L1972.0 554.9L1973.0 555.4L1974.0 554.6L1975.0 554.5L1976.0 556.2L1977.0 555.1L1978.0 557.2L1979.0 555.6L1980.0 555.1L1981.0 556.1" stroke="#CC9900"/>
<path d="M218.0 668.4L220.0 667.8L222.0 667.0L224.0 668.6L226.0 669.7L228.0 668.9L230.0 669.2L232.0 671.1L234.0 671.1L236.0 670.8L238.0 672.0L240.0 672.5L242.0 674.1L244.0 675.0L246.0 676.7L248.0 677.3L250.0 676.4L252.0 678.3L254.0 679.0L256.0 679.1L258.0 679.8L260.0 679.0L262.0 679.0L264.0 680.6L266.0 679.3L268.0 678.8L270.0 681.2L272.0 680.1L274.0 680.5L276.0 679.9L278.0 680.1L280.0 680.3L282.0 681.0L284.0 681.6L286.0 679.9L288.0 682.1L290.0 680.9L292.0 681.1L294.0 682.4L296.0 681.9L298.0 681.0L300.0 683.4L302.0 681.6L304.0 682.5L306.0 682.5L308.0 683.4L310.0 682.2L312.0 683.3L314.0 682.1L316.0 683.5L318.0 682.2L320.0 682.5L322.0 684.1L324.0 683.1L326.0 683.0L328.0 684.5L330.0 683.2L332.0 682.4L334.0 683.6L336.0 682.3L338.0 683.9L340.0 684.0L342.0 682.8L344.0 682.8L346.0 683.5L348.0 683.4L350.0 682.8L352.0 684.0L354.0 682.2L356.0 683.5L358.0 683.7L360.0 683.9L362.0 684.5L364.0 683.6L366.0 685.1L368.0 684.8L370.0 684.6L372.0 684.3L374.0 684.7L376.0 685.9L378.0 685.2L380.0 686.1L382.0 686.9L384.0 687.1L386.0 687.6L388.0 686.4L390.0 685.9L392.0 687.4L394.0 686.9L396.0 687.5L398.0 686.7L400.0 687.4L402.0 687.1L404.0 686.9L406.0 686.7L408.0 686.5L410.0 686.2L412.0 686.0L414.0 686.4L416.0 685.2L418.0 686.6L420.0 685.1L422.0 685.7L424.0 684.7L426.0 684.4L428.0 685.8L430.0 684.0L432.0 683.1L434.0 683.3L436.0 683.4L438.0 685.0L440.0 683.4L442.0 683.8L444.0 682.3L446.0 683.0L448.0 683.1L450.0 683.7L452.0 681.7L454.0 682.4L456.0 681.9L458.0 680.7L460.0 681.1L462.0 680.5L464.0 678.4L466.0 679.8L468.0 678.9L470.0 677.4L472.0 676.0L474.0 677.1L476.0 675.5L478.0 675.3L480.0 674.9L482.0 673.0L484.0 673.4L486.0 672.2L488.0 671.7L490.0 671.2L492.0 670.7L494.0 671.1L496.0 670.0L498.0 669.5L500.0 669.2L502.0 669.5L504.0 668.7L506.0 669.1L508.0 669.7L510.0 669.6L512.0 670.4L514.0 670.5L516.0 672.8L518.0 672.9L520.0 672.8L522.0 673.0L524.0 675.2L526.0 674.4L528.0 674.8L530.0 675.9L532.0 676.7L534.0 678.4L536.0 678.3L538.0 680.7L540.0 679.5L542.0 681.5L544.0 681.0L546.0 683.7L548.0 682.8L550.0 683.5L552.0 684.7L554.0 685.4L556.0 684.3L558.0 685.3L560.0 685.0L562.0 686.5L564.0 686.8L566.0 687.1L568.0 687.4L570.0 688.1L572.0 688.5L574.0 690.0L576.0 691.4L578.0 689.7L580.0 691.5L582.0 691.9L584.0 693.0L586.0 692.4L588.0 693.1L590.0 692.6L592.0 693.8L594.0 693.4L596.0 693.2L598.0 693.6L600.0 693.1L602.0 692.2L604.0 693.7L606.0 693.5L608.0 693.2L610.0 694.0L612.0 694.2L614.0 692.5L616.0 692.8L618.0 694.4L620.0 694.3L622.0 692.8L624.0 692.4L626.0 692.4L628.0 692.0L630.0 690.6L632.0 690.9L634.0 688.7L636.0 687.1L638.0 686.8L640.0 683.5L642.0 681.2L644.0 678.4L646.0 674.6L648.0 669.4L650.0 664.3L652.0 656.9L654.0 651.7L656.0 644.4L658.0 636.6L660.0 631.2L662.0 625.8L664.0 620.7L666.0 618.4L668.0 615.9L670.0 613.1L672.0 612.5L674.0 612.1L676.0 614.8L678.0 616.7L680.0 621.0L682.0 622.9L684.0 624.7L686.0 628.3L688.0 631.1L690.0 632.2L692.0 634.4L694.0 636.7L696.0 639.1L698.0 640.8L700.0 642.5L702.0 646.0L704.0 647.4L706.0 649.6L708.0 650.9L710.0 652.9L712.0 655.1L714.0 654.7L716.0 656.7L718.0 658.2L720.0 658.3L722.0 659.6L724.0 659.6L726.0 662.2L728.0 662.9L730.0 663.1L732.0 662.5L734.0 663.6L736.0 665.4L738.0 666.3L740.0 665.6L742.0 666.6L744.0 665.6L746.0 666.2L748.0 666.8L750.0 667.6L752.0 666.8L754.0 669.1L756.0 670.0L758.0 669.0L760.0 669.5L762.0 671.3L764.0 671.3L766.0 670.8L768.0 673.6L770.0 673.7L772.0 673.8L774.0 676.1L776.0 675.2L778.0 675.1L780.0 676.1L782.0 675.8L784.0 676.5L786.0 677.7L788.0 677.6L790.0 678.2L792.0 680.2L794.0 680.2L796.0 680.7L798.0 681.1L800.0 681.7L802.0 683.0L804.0 682.6L806.0 684.5L808.0 683.2L810.0 684.3L812.0 684.1L814.0 685.5L816.0 686.7L818.0 687.9L820.0 687.1L822.0 688.2L824.0 688.5L826.0 688.9L828.0 689.2L830.0 690.6L832.0 690.0L834.0 691.8L836.0 692.3L838.0 692.4L840.0 692.7L842.0 693.0L844.0 695.9L846.0 694.2L848.0 696.7L850.0 696.6L852.0 696.3L854.0 696.2L856.0 698.1L858.0 698.9L860.0 697.3L862.0 698.1L864.0 699.3L866.0 699.1L868.0 700.5L870.0 698.9L872.0 699.9L874.0 698.8L876.0 701.2L878.0 699.3L880.0 698.3L882.0 699.7L884.0 699.6L886.0 701.0L888.0 699.3L890.0 699.4L892.0 699.7L894.0 700.3L896.0 699.0L898.0 699.6L900.0 699.1L902.0 698.4L904.0 698.5L906.0 698.3L908.0 697.4L910.0 698.7L912.0 696.6L914.0 698.2L916.0 697.8L918.0 696.8L920.0 696.2L922.0 696.4L924.0 696.7L926.0 696.8L928.0 696.3L930.0 696.7L932.0 695.5L934.0 695.9L936.0 694.5L938.0 696.1L940.0 695.5L942.0 695.0L944.0 696.0L946.0 695.6L948.0 693.4L950.0 694.9L952.0 693.8L954.0 695.5L956.0 696.3L958.0 694.2L960.0 694.6L962.0 694.3L964.0 694.6L966.0 694.8L968.0 695.1L970.0 693.5L972.0 695.2L974.0 693.4L976.0 694.2L978.0 694.7L980.0 694.4L982.0 693.1L984.0 693.2L986.0 693.4L988.0 693.6L990.0 694.4L992.0 692.6L994.0 693.8L996.0 693.9L998.0 693.8L1000.0 693.7L1002.0 694.4L1004.0 693.7L1006.0 693.9L1008.0 693.7L1010.0 694.6L1012.0 692.0L1014.0 694.2L1016.0 693.2L1018.0 693.2L1020.0 692.7L1022.0 692.2L1024.0 693.3L1026.0 693.1L1028.0 694.0L1030.0 692.7L1032.0 694.8L1034.0 694.1L1036.0 693.8L1038.0 693.5L1040.0 693.6L1042.0 693.4L1044.0 693.9L1046.0 694.4L1048.0 694.4L1050.0 693.6L1052.0 694.5L1054.0 694.1L1056.0 694.9L1058.0 696.2L1060.0 695.4L1062.0 694.8L1064.0 694.0L1066.0 694.2L1068.0 694.1L1070.0 695.8L1072.0 694.8L1074.0 695.4L1076.0 695.0L1078.0 695.5L1080.0 696.5L1082.0 695.0L1084.0 695.3L1086.0 695.0L1088.0 696.2L1090.0 694.9L1092.0 694.8L1094.0 694.7L1096.0 694.7L1098.0 696.0L1100.0 697.3L1102.0 695.0L1104.0 696.4L1106.0 695.9L1108.0 694.9L1110.0 695.4L1112.0 695.4L1114.0 695.0L1116.0 696.8L1118.0 694.0L1120.0 695.5L1122.0 695.4L1124.0 694.6L1126.0 694.9L1128.0 695.3L1130.0 694.6L1132.0 694.6L1134.0 694.6L1136.0 692.5L1138.0 694.7L1140.0 695.0L1142.0 693.7L1144.0 693.0L1146.0 690.4L1148.0 690.2L1150.0 688.5L1152.0 687.4L1154.0 686.9L1156.0 683.8L1158.0 682.0L1160.0 677.8L1162.0 674.4L1164.0 668.7L1166.0 661.6L1168.0 653.8L1170.0 648.4L1172.0 639.7L1174.0 634.5L1176.0 630.1L1178.0 630.8L1180.0 635.5L1182.0 639.5L1184.0 645.8L1186.0 654.5L1188.0 665.2L1190.0 670.6L1192.0 677.9L1194.0 681.7L1196.0 683.6L1198.0 686.5L1200.0 688.6L1202.0 690.9L1204.0 690.4L1206.0 692.9L1208.0 692.7L1210.0 693.1L1212.0 694.3L1214.0 694.6L1216.0 694.5L1218.0 694.5L1220.0 695.3L1222.0 697.4L1224.0 698.1L1226.0 697.5L1228.0 698.2L1230.0 697.2L1232.0 697.7L1234.0 698.0L1236.0 697.0L1238.0 697.0L1240.0 697.7L1242.0 697.3L1244.0 696.6L1246.0 697.4L1248.0 696.7L1250.0 697.4L1252.0 696.4L1254.0 695.9L1256.0 695.9L1258.0 695.4L1260.0 694.8L1262.0 694.7L1264.0 695.2L1266.0 694.8L1268.0 695.0L1270.0 692.6L1272.0 693.3L1274.0 693.0L1276.0 693.2L1278.0 692.6L1280.0 692.4L1282.0 693.1L1284.0 692.6L1286.0 691.6L1288.0 693.3L1290.0 693.1L1292.0 692.1L1294.0 693.2L1296.0 692.3L1298.0 693.8L1300.0 693.1L1302.0 692.9L1304.0 693.5L1306.0 693.5L1308.0 694.5L1310.0 694.7L1312.0 694.9L1314.0 694.9L1316.0 694.2L1318.0 696.4L1320.0 695.5L1322.0 697.6L1324.0 698.9L1326.0 699.0L1328.0 699.2L1330.0 700.0L1332.0 700.7L1334.0 701.1L1336.0 701.7L1338.0 702.1L1340.0 704.2L1342.0 703.8L1344.0 705.0L1346.0 704.5L1348.0 705.1L1350.0 705.1L1352.0 705.7L1354.0 706.0L1356.0 705.5L1358.0 704.6L1360.0 704.2L1362.0 705.5L1364.0 703.6L1366.0 703.1L1368.0 703.7L1370.0 702.8L1372.0 701.9L1374.0 700.6L1376.0 702.0L1378.0 700.2L1380.0 699.9L1382.0 699.1L1384.0 698.0L1386.0 698.0L1388.0 699.2L1390.0 699.4L1392.0 699.2L1394.0 698.8L1396.0 699.0L1398.0 700.2L1400.0 699.8L1402.0 701.8L1404.0 702.4L1406.0 703.5L1408.0 702.8L1410.0 702.1L1412.0 702.2L1414.0 701.5L1416.0 702.9L1418.0 703.5L1420.0 704.6L1422.0 704.6L1424.0 704.9L1426.0 704.9L1428.0 705.5L1430.0 706.3L1432.0 704.8L1434.0 705.4L1436.0 705.0L1438.0 707.4L1440.0 707.4L1442.0 707.2L1444.0 706.1L1446.0 707.2L1448.0 707.1L1450.0 707.5L1452.0 707.5L1454.0 708.2L1456.0 707.7L1458.0 708.8L1460.0 708.5L1462.0 708.3L1464.0 708.6L1466.0 708.5L1468.0 709.5L1470.0 708.9L1472.0 709.5L1474.0 709.2L1476.0 708.5L1478.0 710.4L1480.0 709.1L1482.0 710.5L1484.0 710.4L1486.0 709.1L1488.0 709.7L1490.0 710.1L1492.0 710.0L1494.0 709.8L1496.0 711.2L1498.0 710.6L1500.0 711.1L1502.0 710.6L1504.0 711.1L1506.0 710.4L1508.0 710.9L1510.0 711.3L1512.0 711.0L1514.0 710.6L1516.0 710.2L1518.0 711.1L1520.0 711.2L1522.0 710.8L1524.0 710.5L1526.0 711.4L1528.0 712.6L1530.0 710.8L1532.0 711.3L1534.0 711.3L1536.0 709.5L1538.0 711.2L1540.0 710.6L1542.0 712.1L1544.0 710.9L1546.0 710.6L1548.0 711.0L1550.0 711.2L1552.0 710.7L1554.0 711.1L1556.0 710.2L1558.0 711.0L1560.0 711.7L1562.0 712.5L1564.0 711.6L1566.0 711.3L1568.0 712.0L1570.0 711.9L1572.0 712.3L1574.0 711.9L1576.0 711.1L1578.0 711.4L1580.0 711.3L1582.0 711.4L1584.0 711.3L1586.0 710.6L1588.0 709.7L1590.0 710.7L1592.0 709.8L1594.0 711.3L1596.0 711.2L1598.0 710.0L1600.0 711.7L1602.0 711.8L1604.0 711.3L1606.0 712.4L1608.0 712.6L1610.0 710.4L1612.0 712.0L1614.0 711.6L1616.0 711.6L1618.0 711.9L1620.0 710.8L1622.0 710.9L1624.0 710.7L1626.0 710.8L1628.0 711.3L1630.0 710.3L1632.0 710.6L1634.0 711.8L1636.0 711.3L1638.0 711.6L1640.0 710.1L1642.0 710.8L1644.0 711.0L1646.0 711.4L1648.0 711.0L1650.0 712.1L1652.0 711.4L1654.0 711.5L1656.0 711.5L1658.0 712.0L1660.0 711.1L1662.0 712.3L1664.0 711.8L1666.0 711.6L1668.0 711.5L1670.0 711.9L1672.0 712.2L1674.0 712.2L1676.0 711.8L1678.0 712.2L1680.0 711.7L1682.0 712.5L1684.0 711.6L1686.0 710.2L1688.0 712.6L1690.0 711.7L1692.0 710.8L1694.0 711.5L1696.0 711.0L1698.0 713.1L1700.0 712.0L1702.0 710.6L1704.0 712.1L1706.0 711.4L1708.0 713.1L1710.0 711.0L1712.0 710.2L1714.0 711.8L1716.0 711.6L1718.0 711.5L1720.0 710.3L1722.0 712.1L1724.0 713.0L1726.0 710.5L1728.0 712.7L1730.0 711.5L1732.0 713.5L1734.0 712.2L1736.0 711.8L1738.0 712.7L1740.0 712.4L1742.0 711.6L1744.0 712.5L1746.0 711.7L1748.0 710.8L1750.0 713.5L1752.0 711.9L1754.0 711.7L1756.0 712.4L1758.0 711.1L1760.0 711.3L1762.0 712.0L1764.0 712.0L1766.0 712.4L1768.0 713.2L1770.0 712.2L1772.0 712.9L1774.0 713.0L1776.0 711.9L1778.0 712.8L1780.0 712.1L1782.0 713.5L1784.0 713.1L1786.0 712.9L1788.0 712.0L1790.0 713.0L1792.0 712.5L1794.0 713.6L1796.0 713.0L1798.0 712.6L1800.0 713.8L1802.0 713.7L1804.0 712.9L1806.0 714.1L1808.0 713.2L1810.0 713.2L1812.0 713.5L1814.0 712.9L1816.0 713.2L1818.0 713.4L1820.0 714.6L1822.0 714.6L1824.0 713.4L1826.0 714.8L1828.0 713.6L1830.0 713.9L1832.0 714.3L1834.0 713.9L1836.0 715.3L1838.0 713.9L1840.0 712.9L1842.0 714.6L1844.0 713.3L1846.0 713.4L1848.0 711.9L1850.0 714.1L1852.0 713.9L1854.0 713.8L1856.0 713.8L1858.0 714.2L1860.0 712.9L1862.0 713.4L1864.0 712.1L1866.0 712.2L1868.0 713.1L1870.0 712.5L1872.0 711.1L1874.0 712.1L1876.0 711.6L1878.0 711.0L1880.0 711.7L1882.0 711.0L1884.0 710.0L1886.0 710.2L1888.0 712.1L1890.0 709.7L1892.0 710.8L1894.0 710.9L1896.0 710.8L1898.0 709.4L1900.0 710.0L1902.0 710.2L1904.0 710.6L1906.0 709.6L1908.0 709.2L1910.0 710.7L1912.0 710.8L1914.0 710.3L1916.0 709.6L1918.0 710.3L1920.0 710.1L1922.0 710.7L1924.0 709.2L1926.0 710.2L1928.0 710.1L1930.0 709.5L1932.0 710.5L1934.0 710.4L1936.0 710.2L1938.0 710.8L1940.0 709.6L1942.0 710.6L1944.0 711.1L1946.0 711.1L1948.0 711.7L1950.0 710.2L1952.0 710.1L1954.0 711.5L1956.0 711.7L1958.0 713.0L1960.0 712.1L1962.0 711.2L1964.0 712.5L1966.0 711.5L1968.0 711.2L1970.0 714.0L1972.0 712.8L1974.0 713.3L1976.0 713.3L1978.0 714.4L1980.0 713.5L1982.0 714.4L1984.0 713.0L1986.0 713.0L1988.0 715.1L1990.0 715.4L1992.0 714.9L1994.0 715.0L1996.0 715.2L1998.0 714.8L2000.0 716.6L2002.0 716.2L2004.0 716.4L2006.0 716.6L2008.0 717.3L2010.0 717.2L2012.0 717.6L2014.0 716.6" stroke="#B374DE"/>
<path d="M218.0 799.6L220.0 800.5L222.0 798.9L224.0 799.6L226.0 801.0L228.0 802.0L230.0 803.2L232.0 803.4L234.0 806.6L236.0 806.8L238.0 808.4L240.0 810.4L242.0 810.6L244.0 812.0L246.0 813.6L248.0 813.0L250.0 813.4L252.0 812.8L254.0 813.4L256.0 813.7L258.0 814.6L260.0 815.0L262.0 816.3L264.0 817.7L266.0 818.3L268.0 819.2L270.0 820.4L272.0 822.6L274.0 823.0L276.0 824.1L278.0 824.5L280.0 823.9L282.0 825.0L284.0 823.8L286.0 826.7L288.0 826.2L290.0 825.5L292.0 825.1L294.0 826.4L296.0 825.0L298.0 826.0L300.0 827.2L302.0 827.0L304.0 826.8L306.0 828.0L308.0 826.8L310.0 827.9L312.0 827.5L314.0 827.4L316.0 828.5L318.0 827.6L320.0 829.8L322.0 828.1L324.0 830.1L326.0 828.0L328.0 829.3L330.0 828.2L332.0 828.2L334.0 829.4L336.0 829.9L338.0 828.7L340.0 830.5L342.0 829.3L344.0 830.1L346.0 830.5L348.0 830.9L350.0 829.4L352.0 832.1L354.0 831.7L356.0 831.5L358.0 831.6L360.0 831.6L362.0 832.4L364.0 834.2L366.0 834.1L368.0 833.9L370.0 834.5L372.0 836.1L374.0 834.7L376.0 834.4L378.0 835.5L380.0 834.5L382.0 833.9L384.0 833.0L386.0 832.0L388.0 831.8L390.0 831.9L392.0 831.8L394.0 831.9L396.0 831.9L398.0 831.5L400.0 831.3L402.0 830.2L404.0 829.3L406.0 830.2L408.0 829.8L410.0 829.8L412.0 829.9L414.0 829.1L416.0 829.1L418.0 829.6L420.0 829.6L422.0 829.0L424.0 829.7L426.0 829.0L428.0 828.3L430.0 829.0L432.0 830.1L434.0 828.2L436.0 829.4L438.0 829.4L440.0 829.4L442.0 827.6L444.0 829.5L446.0 828.0L448.0 827.6L450.0 827.5L452.0 828.0L454.0 827.5L456.0 827.3L458.0 828.3L460.0 827.0L462.0 827.8L464.0 830.4L466.0 831.5L468.0 832.3L470.0 830.6L472.0 831.8L474.0 830.9L476.0 831.2L478.0 828.5L480.0 828.9L482.0 828.0L484.0 826.3L486.0 826.0L488.0 826.4L490.0 824.2L492.0 823.0L494.0 823.2L496.0 822.4L498.0 821.6L500.0 819.7L502.0 819.8L504.0 820.4L506.0 819.0L508.0 818.8L510.0 819.7L512.0 820.1L514.0 818.1L516.0 817.2L518.0 817.7L520.0 818.0L522.0 818.7L524.0 819.7L526.0 819.8L528.0 820.2L530.0 821.7L532.0 822.0L534.0 823.7L536.0 824.4L538.0 827.6L540.0 827.6L542.0 827.5L544.0 828.2L546.0 829.3L548.0 829.0L550.0 830.3L552.0 830.8L554.0 832.5L556.0 832.2L558.0 832.5L560.0 832.6L562.0 833.3L564.0 834.6L566.0 834.9L568.0 836.4L570.0 835.6L572.0 837.2L574.0 837.1L576.0 837.3L578.0 836.2L580.0 837.1L582.0 838.8L584.0 839.6L586.0 839.0L588.0 839.7L590.0 839.1L592.0 839.3L594.0 839.3L596.0 840.6L598.0 840.4L600.0 840.2L602.0 840.3L604.0 841.1L606.0 841.0L608.0 840.4L610.0 842.3L612.0 841.4L614.0 841.3L616.0 842.4L618.0 842.2L620.0 841.4L622.0 841.9L624.0 840.7L626.0 840.9L628.0 839.6L630.0 841.9L632.0 839.2L634.0 840.2L636.0 838.1L638.0 836.6L640.0 835.6L642.0 833.5L644.0 830.5L646.0 827.5L648.0 822.2L650.0 818.0L652.0 811.5L654.0 805.5L656.0 798.4L658.0 791.8L660.0 786.2L662.0 781.8L664.0 778.6L666.0 776.1L668.0 774.0L670.0 772.8L672.0 773.2L674.0 771.5L676.0 772.8L678.0 775.1L680.0 773.5L682.0 776.2L684.0 779.2L686.0 779.7L688.0 785.0L690.0 784.6L692.0 790.1L694.0 793.1L696.0 795.3L698.0 796.8L700.0 799.3L702.0 800.4L704.0 803.5L706.0 803.8L708.0 805.9L710.0 808.0L712.0 807.5L714.0 808.9L716.0 810.0L718.0 809.7L720.0 812.1L722.0 812.3L724.0 811.8L726.0 813.6L728.0 813.8L730.0 814.6L732.0 815.9L734.0 816.1L736.0 818.0L738.0 817.5L740.0 819.4L742.0 819.4L744.0 820.7L746.0 820.4L748.0 821.1L750.0 821.4L752.0 823.3L754.0 824.3L756.0 825.8L758.0 825.9L760.0 825.9L762.0 826.3L764.0 827.4L766.0 827.7L768.0 829.4L770.0 829.6L772.0 829.0L774.0 829.6L776.0 831.6L778.0 831.4L780.0 831.5L782.0 833.0L784.0 832.4L786.0 833.0L788.0 833.3L790.0 832.7L792.0 835.2L794.0 834.1L796.0 835.0L798.0 835.2L800.0 836.6L802.0 836.4L804.0 836.8L806.0 836.0L808.0 837.5L810.0 837.0L812.0 838.7L814.0 839.2L816.0 839.5L818.0 841.6L820.0 841.2L822.0 842.0L824.0 842.5L826.0 843.0L828.0 844.6L830.0 845.5L832.0 844.5L834.0 846.8L836.0 846.9L838.0 847.8L840.0 847.9L842.0 847.3L844.0 847.8L846.0 850.4L848.0 849.7L850.0 849.0L852.0 850.5L854.0 850.3L856.0 849.5L858.0 849.3L860.0 849.9L862.0 851.4L864.0 851.2L866.0 851.2L868.0 851.7L870.0 852.0L872.0 850.2L874.0 851.5L876.0 851.2L878.0 851.0L880.0 851.5L882.0 851.8L884.0 851.8L886.0 851.0L888.0 851.7L890.0 853.4L892.0 851.2L894.0 850.8L896.0 852.1L898.0 852.2L900.0 852.0L902.0 850.8L904.0 852.1L906.0 850.7L908.0 850.3L910.0 850.5L912.0 850.7L914.0 851.1L916.0 850.8L918.0 850.2L920.0 850.7L922.0 849.9L924.0 850.3L926.0 848.5L928.0 848.2L930.0 849.6L932.0 847.9L934.0 848.4L936.0 848.3L938.0 847.8L940.0 847.6L942.0 848.6L944.0 845.8L946.0 847.7L948.0 848.5L950.0 846.7L952.0 846.4L954.0 846.7L956.0 847.3L958.0 845.0L960.0 845.8L962.0 845.4L964.0 845.9L966.0 845.5L968.0 845.8L970.0 845.0L972.0 845.3L974.0 844.7L976.0 844.6L978.0 845.0L980.0 844.9L982.0 844.1L984.0 846.0L986.0 844.8L988.0 843.8L990.0 845.5L992.0 844.2L994.0 845.0L996.0 844.6L998.0 844.8L1000.0 844.7L1002.0 844.1L1004.0 844.5L1006.0 845.9L1008.0 842.9L1010.0 844.5L1012.0 844.7L1014.0 843.7L1016.0 843.4L1018.0 845.9L1020.0 844.1L1022.0 845.8L1024.0 844.7L1026.0 844.4L1028.0 844.6L1030.0 844.7L1032.0 845.1L1034.0 844.6L1036.0 844.4L1038.0 844.5L1040.0 845.4L1042.0 845.1L1044.0 843.9L1046.0 844.2L1048.0 845.0L1050.0 844.4L1052.0 844.7L1054.0 844.4L1056.0 845.0L1058.0 845.6L1060.0 846.1L1062.0 845.5L1064.0 847.1L1066.0 845.7L1068.0 847.4L1070.0 846.6L1072.0 846.4L1074.0 845.8L1076.0 844.6L1078.0 846.2L1080.0 846.5L1082.0 847.8L1084.0 845.5L1086.0 847.8L1088.0 846.4L1090.0 847.1L1092.0 845.0L1094.0 846.7L1096.0 846.4L1098.0 847.2L1100.0 846.8L1102.0 845.9L1104.0 847.4L1106.0 847.2L1108.0 847.1L1110.0 847.3L1112.0 847.3L1114.0 846.4L1116.0 845.3L1118.0 845.2L1120.0 846.9L1122.0 846.3L1124.0 845.7L1126.0 845.1L1128.0 845.2L1130.0 845.0L1132.0 844.5L1134.0 844.0L1136.0 845.7L1138.0 844.1L1140.0 843.2L1142.0 842.3L1144.0 842.2L1146.0 842.6L1148.0 841.8L1150.0 840.1L1152.0 838.9L1154.0 836.4L1156.0 833.1L1158.0 831.7L1160.0 827.5L1162.0 824.3L1164.0 816.6L1166.0 809.2L1168.0 800.4L1170.0 791.1L1172.0 782.8L1174.0 778.0L1176.0 774.7L1178.0 774.4L1180.0 777.3L1182.0 783.3L1184.0 794.3L1186.0 804.2L1188.0 812.7L1190.0 819.1L1192.0 825.2L1194.0 829.8L1196.0 832.2L1198.0 834.9L1200.0 836.4L1202.0 837.4L1204.0 839.1L1206.0 841.5L1208.0 842.5L1210.0 844.3L1212.0 844.2L1214.0 845.5L1216.0 846.3L1218.0 846.3L1220.0 845.2L1222.0 845.5L1224.0 845.7L1226.0 845.0L1228.0 846.0L1230.0 846.4L1232.0 845.3L1234.0 847.1L1236.0 845.5L1238.0 845.6L1240.0 845.5L1242.0 845.2L1244.0 846.0L1246.0 845.7L1248.0 846.8L1250.0 846.0L1252.0 845.8L1254.0 845.1L1256.0 844.1L1258.0 844.8L1260.0 844.1L1262.0 845.1L1264.0 844.1L1266.0 845.0L1268.0 844.1L1270.0 843.8L1272.0 843.1L1274.0 842.8L1276.0 842.8L1278.0 842.7L1280.0 841.3L1282.0 841.8L1284.0 842.8L1286.0 840.9L1288.0 840.6L1290.0 840.1L1292.0 839.4L1294.0 841.2L1296.0 840.3L1298.0 840.4L1300.0 841.5L1302.0 841.9L1304.0 839.9L1306.0 841.6L1308.0 841.7L1310.0 842.0L1312.0 842.6L1314.0 842.8L1316.0 844.4L1318.0 844.3L1320.0 844.6L1322.0 845.8L1324.0 846.1L1326.0 846.4L1328.0 847.0L1330.0 848.8L1332.0 848.7L1334.0 849.1L1336.0 849.4L1338.0 850.5L1340.0 850.7L1342.0 852.2L1344.0 853.0L1346.0 851.9L1348.0 853.8L1350.0 854.5L1352.0 854.4L1354.0 853.6L1356.0 855.1L1358.0 853.5L1360.0 852.8L1362.0 852.4L1364.0 852.7L1366.0 852.8L1368.0 852.4L1370.0 851.1L1372.0 849.5L1374.0 849.3L1376.0 848.6L1378.0 848.7L1380.0 847.1L1382.0 848.2L1384.0 848.3L1386.0 847.7L1388.0 848.2L1390.0 847.3L1392.0 847.0L1394.0 847.8L1396.0 849.3L1398.0 849.4L1400.0 848.7L1402.0 850.2L1404.0 849.4L1406.0 851.1L1408.0 850.8L1410.0 850.5L1412.0 851.8L1414.0 851.1L1416.0 851.4L1418.0 851.4L1420.0 853.0L1422.0 853.1L1424.0 853.4L1426.0 853.5L1428.0 855.1L1430.0 854.1L1432.0 854.1L1434.0 855.7L1436.0 856.1L1438.0 855.6L1440.0 854.4L1442.0 855.5L1444.0 856.6L1446.0 856.5L1448.0 857.8L1450.0 856.0L1452.0 857.8L1454.0 857.1L1456.0 858.7L1458.0 858.0L1460.0 859.1L1462.0 858.2L1464.0 857.9L1466.0 858.3L1468.0 858.9L1470.0 858.9L1472.0 860.7L1474.0 861.0L1476.0 860.5L1478.0 859.8L1480.0 860.6L1482.0 860.4L1484.0 862.0L1486.0 861.4L1488.0 861.7L1490.0 861.2L1492.0 860.2L1494.0 861.2L1496.0 861.0L1498.0 862.1L1500.0 862.0L1502.0 861.4L1504.0 861.7L1506.0 863.1L1508.0 861.3L1510.0 861.4L1512.0 861.8L1514.0 861.5L1516.0 861.7L1518.0 862.3L1520.0 863.1L1522.0 860.7L1524.0 861.9L1526.0 861.9L1528.0 861.8L1530.0 861.7L1532.0 861.6L1534.0 862.5L1536.0 861.4L1538.0 861.6L1540.0 861.7L1542.0 861.7L1544.0 861.5L1546.0 862.3L1548.0 861.5L1550.0 861.6L1552.0 861.4L1554.0 860.7L1556.0 860.8L1558.0 860.6L1560.0 861.4L1562.0 860.7L1564.0 860.5L1566.0 861.3L1568.0 861.5L1570.0 859.9L1572.0 862.2L1574.0 861.0L1576.0 860.9L1578.0 861.7L1580.0 860.9L1582.0 860.4L1584.0 862.3L1586.0 860.0L1588.0 860.7L1590.0 861.3L1592.0 859.9L1594.0 860.6L1596.0 860.9L1598.0 862.2L1600.0 859.9L1602.0 860.5L1604.0 861.0L1606.0 860.5L1608.0 859.6L1610.0 860.7L1612.0 860.5L1614.0 860.7L1616.0 861.2L1618.0 861.1L1620.0 860.7L1622.0 860.6L1624.0 859.6L1626.0 860.3L1628.0 860.6L1630.0 860.1L1632.0 860.5L1634.0 859.8L1636.0 861.5L1638.0 861.9L1640.0 860.1L1642.0 860.7L1644.0 860.2L1646.0 861.3L1648.0 860.7L1650.0 860.5L1652.0 860.2L1654.0 860.5L1656.0 859.7L1658.0 860.9L1660.0 859.9L1662.0 860.8L1664.0 860.5L1666.0 861.2L1668.0 860.4L1670.0 861.1L1672.0 859.8L1674.0 860.8L1676.0 860.2L1678.0 860.5L1680.0 860.5L1682.0 861.1L1684.0 859.0L1686.0 860.6L1688.0 859.4L1690.0 861.2L1692.0 859.0L1694.0 859.7L1696.0 859.2L1698.0 861.5L1700.0 859.5L1702.0 860.5L1704.0 860.0L1706.0 859.1L1708.0 860.2L1710.0 860.9L1712.0 860.3L1714.0 861.1L1716.0 860.1L1718.0 860.4L1720.0 860.1L1722.0 860.6L1724.0 861.7L1726.0 860.7L1728.0 860.5L1730.0 860.0L1732.0 859.9L1734.0 861.4L1736.0 859.6L1738.0 859.8L1740.0 860.3L1742.0 860.1L1744.0 861.8L1746.0 858.8L1748.0 860.7L1750.0 860.9L1752.0 859.6L1754.0 860.0L1756.0 860.8L1758.0 861.7L1760.0 859.9L1762.0 859.5L1764.0 861.4L1766.0 861.8L1768.0 860.6L1770.0 859.3L1772.0 862.0L1774.0 860.9L1776.0 861.9L1778.0 861.2L1780.0 861.0L1782.0 861.0L1784.0 862.5L1786.0 862.5L1788.0 860.1L1790.0 861.1L1792.0 863.1L1794.0 861.7L1796.0 861.1L1798.0 862.1L1800.0 862.1L1802.0 862.2L1804.0 862.1L1806.0 862.3L1808.0 862.3L1810.0 862.9L1812.0 862.2L1814.0 862.7L1816.0 862.8L1818.0 863.9L1820.0 863.4L1822.0 863.1L1824.0 863.6L1826.0 863.6L1828.0 864.1L1830.0 863.8L1832.0 864.7L1834.0 864.4L1836.0 863.5L1838.0 863.3L1840.0 864.2L1842.0 864.0L1844.0 863.5L1846.0 862.6L1848.0 862.3L1850.0 863.8L1852.0 864.0L1854.0 863.9L1856.0 862.3L1858.0 863.8L1860.0 862.5L1862.0 862.9L1864.0 862.8L1866.0 861.7L1868.0 861.6L1870.0 860.3L1872.0 860.9L1874.0 860.0L1876.0 861.3L1878.0 860.8L1880.0 861.2L1882.0 860.5L1884.0 859.6L1886.0 860.0L1888.0 859.3L1890.0 859.7L1892.0 859.3L1894.0 858.2L1896.0 858.7L1898.0 858.5L1900.0 858.1L1902.0 858.8L1904.0 859.3L1906.0 857.7L1908.0 857.7L1910.0 856.3L1912.0 857.8L1914.0 857.6L1916.0 856.4L1918.0 858.1L1920.0 858.4L1922.0 857.5L1924.0 857.7L1926.0 857.4L1928.0 858.6L1930.0 857.1L1932.0 858.0L1934.0 859.6L1936.0 858.4L1938.0 858.7L1940.0 858.4L1942.0 857.8L1944.0 858.7L1946.0 859.1L1948.0 858.2L1950.0 859.2L1952.0 860.0L1954.0 860.0L1956.0 858.3L1958.0 858.9L1960.0 858.6L1962.0 860.6L1964.0 860.5L1966.0 860.7L1968.0 859.8L1970.0 859.8L1972.0 860.8L1974.0 861.1L1976.0 860.6L1978.0 861.5L1980.0 862.1L1982.0 862.1L1984.0 861.4L1986.0 860.9L1988.0 862.5L1990.0 863.1L1992.0 863.1L1994.0 863.2L1996.0 863.4L1998.0 864.7L2000.0 864.4L2002.0 864.9L2004.0 864.5L2006.0 865.1L2008.0 866.0L2010.0 865.5L2012.0 865.7L2014.0 866.8" stroke="#32AE6C"/>
<path d="M218.0 972.5L220.0 972.1L222.0 973.5L224.0 972.9L226.0 973.4L228.0 973.4L230.0 974.9L232.0 977.3L234.0 977.6L236.0 979.0L238.0 980.0L240.0 980.5L242.0 981.3L244.0 982.4L246.0 983.6L248.0 984.2L250.0 984.8L252.0 985.2L254.0 985.1L256.0 985.9L258.0 985.9L260.0 987.7L262.0 985.8L264.0 987.3L266.0 989.1L268.0 987.3L270.0 986.8L272.0 987.6L274.0 988.6L276.0 987.6L278.0 988.2L280.0 987.8L282.0 987.5L284.0 989.4L286.0 987.8L288.0 987.4L290.0 987.5L292.0 988.1L294.0 988.1L296.0 988.4L298.0 988.0L300.0 986.9L302.0 988.3L304.0 987.7L306.0 987.8L308.0 987.0L310.0 987.7L312.0 987.6L314.0 988.2L316.0 987.3L318.0 988.4L320.0 988.5L322.0 987.8L324.0 988.2L326.0 988.2L328.0 989.5L330.0 987.4L332.0 988.9L334.0 988.1L336.0 989.1L338.0 990.1L340.0 989.2L342.0 989.8L344.0 989.3L346.0 991.3L348.0 990.7L350.0 991.0L352.0 989.4L354.0 989.6L356.0 991.3L358.0 990.5L360.0 990.6L362.0 991.1L364.0 990.2L366.0 991.7L368.0 991.3L370.0 991.8L372.0 991.1L374.0 992.0L376.0 991.3L378.0 992.6L380.0 992.8L382.0 992.8L384.0 992.6L386.0 992.7L388.0 990.7L390.0 992.9L392.0 992.2L394.0 992.5L396.0 992.2L398.0 991.4L400.0 992.0L402.0 992.8L404.0 993.3L406.0 991.9L408.0 991.6L410.0 993.3L412.0 991.6L414.0 993.6L416.0 992.1L418.0 991.4L420.0 992.7L422.0 993.1L424.0 990.8L426.0 992.9L428.0 991.5L430.0 992.7L432.0 991.3L434.0 990.4L436.0 991.7L438.0 991.9L440.0 992.6L442.0 992.1L444.0 991.2L446.0 990.2L448.0 989.7L450.0 989.5L452.0 988.8L454.0 988.8L456.0 987.0L458.0 988.3L460.0 987.8L462.0 989.0L464.0 987.4L466.0 986.0L468.0 986.2L470.0 984.4L472.0 984.3L474.0 982.8L476.0 984.6L478.0 983.6L480.0 981.9L482.0 982.4L484.0 982.7L486.0 982.1L488.0 981.6L490.0 980.4L492.0 980.3L494.0 980.5L496.0 980.8L498.0 979.3L500.0 978.9L502.0 980.3L504.0 978.7L506.0 980.1L508.0 979.5L510.0 980.1L512.0 980.9L514.0 980.5L516.0 981.0L518.0 980.3L520.0 981.0L522.0 982.6L524.0 983.8L526.0 984.3L528.0 985.6L530.0 984.8L532.0 985.3L534.0 986.3L536.0 986.1L538.0 986.5L540.0 986.2L542.0 988.1L544.0 987.1L546.0 988.6L548.0 987.7L550.0 989.9L552.0 988.9L554.0 990.6L556.0 989.3L558.0 990.5L560.0 992.0L562.0 990.9L564.0 991.9L566.0 991.8L568.0 990.8L570.0 992.9L572.0 993.3L574.0 992.5L576.0 993.9L578.0 993.3L580.0 993.4L582.0 994.3L584.0 994.1L586.0 996.4L588.0 993.9L590.0 995.7L592.0 996.1L594.0 994.1L596.0 994.4L598.0 996.1L600.0 995.4L602.0 996.0L604.0 996.5L606.0 995.3L608.0 994.8L610.0 993.8L612.0 995.5L614.0 994.6L616.0 995.3L618.0 995.2L620.0 993.9L622.0 996.0L624.0 995.5L626.0 995.2L628.0 993.7L630.0 994.2L632.0 993.7L634.0 992.7L636.0 990.8L638.0 990.3L640.0 988.5L642.0 986.6L644.0 983.6L646.0 982.0L648.0 977.8L650.0 971.8L652.0 966.9L654.0 960.6L656.0 953.3L658.0 945.2L660.0 940.1L662.0 935.8L664.0 934.0L666.0 930.9L668.0 929.2L670.0 928.8L672.0 930.2L674.0 930.3L676.0 930.6L678.0 933.3L680.0 933.7L682.0 936.2L684.0 938.1L686.0 940.4L688.0 942.2L690.0 942.9L692.0 945.1L694.0 946.2L696.0 950.1L698.0 951.1L700.0 953.7L702.0 954.5L704.0 955.3L706.0 959.6L708.0 960.1L710.0 961.2L712.0 961.9L714.0 962.9L716.0 963.4L718.0 962.4L720.0 964.7L722.0 964.0L724.0 964.4L726.0 966.2L728.0 965.9L730.0 965.3L732.0 964.5L734.0 966.3L736.0 967.1L738.0 967.4L740.0 967.5L742.0 968.7L744.0 969.2L746.0 970.9L748.0 971.8L750.0 972.4L752.0 971.5L754.0 972.5L756.0 973.1L758.0 972.6L760.0 973.1L762.0 975.0L764.0 973.9L766.0 974.7L768.0 974.1L770.0 974.8L772.0 973.9L774.0 975.4L776.0 976.6L778.0 977.6L780.0 977.3L782.0 977.4L784.0 977.3L786.0 977.3L788.0 978.0L790.0 979.0L792.0 978.5L794.0 980.2L796.0 979.5L798.0 979.7L800.0 981.0L802.0 981.3L804.0 982.3L806.0 984.8L808.0 984.7L810.0 985.7L812.0 987.0L814.0 987.6L816.0 986.9L818.0 988.6L820.0 988.4L822.0 988.5L824.0 989.2L826.0 988.2L828.0 989.0L830.0 989.8L832.0 990.6L834.0 990.3L836.0 990.8L838.0 992.0L840.0 992.7L842.0 992.7L844.0 993.5L846.0 992.9L848.0 993.6L850.0 994.9L852.0 995.5L854.0 996.5L856.0 999.2L858.0 999.1L860.0 999.7L862.0 1001.7L864.0 1003.5L866.0 1002.8L868.0 1003.9L870.0 1002.7L872.0 1002.7L874.0 1002.5L876.0 1002.9L878.0 1004.3L880.0 1002.2L882.0 1004.1L884.0 1002.3L886.0 1002.8L888.0 1003.6L890.0 1003.4L892.0 1003.2L894.0 1001.8L896.0 1003.3L898.0 1002.3L900.0 1004.6L902.0 1002.8L904.0 1003.1L906.0 1002.0L908.0 1002.3L910.0 1001.6L912.0 1003.0L914.0 1001.9L916.0 1002.2L918.0 1001.1L920.0 1000.9L922.0 1001.9L924.0 1000.1L926.0 999.2L928.0 1000.6L930.0 999.3L932.0 999.6L934.0 1000.4L936.0 999.1L938.0 1000.1L940.0 998.9L942.0 1000.3L944.0 1000.1L946.0 998.7L948.0 998.8L950.0 998.3L952.0 998.9L954.0 999.4L956.0 997.5L958.0 999.1L960.0 997.4L962.0 997.6L964.0 996.9L966.0 999.5L968.0 998.0L970.0 998.1L972.0 997.4L974.0 998.5L976.0 996.3L978.0 997.7L980.0 999.2L982.0 997.4L984.0 997.6L986.0 998.1L988.0 997.0L990.0 997.6L992.0 998.3L994.0 997.7L996.0 997.9L998.0 997.4L1000.0 997.9L1002.0 997.7L1004.0 998.7L1006.0 998.2L1008.0 997.6L1010.0 996.1L1012.0 998.3L1014.0 998.3L1016.0 997.2L1018.0 996.5L1020.0 997.1L1022.0 998.6L1024.0 997.2L1026.0 997.7L1028.0 998.2L1030.0 998.9L1032.0 998.1L1034.0 998.0L1036.0 997.8L1038.0 999.3L1040.0 999.0L1042.0 998.2L1044.0 997.3L1046.0 997.8L1048.0 998.7L1050.0 997.9L1052.0 999.0L1054.0 998.7L1056.0 998.7L1058.0 998.9L1060.0 998.9L1062.0 997.9L1064.0 998.3L1066.0 1000.2L1068.0 997.8L1070.0 998.3L1072.0 999.4L1074.0 998.5L1076.0 998.1L1078.0 997.8L1080.0 999.1L1082.0 999.4L1084.0 999.7L1086.0 998.7L1088.0 999.4L1090.0 998.0L1092.0 998.8L1094.0 998.2L1096.0 998.7L1098.0 999.1L1100.0 999.3L1102.0 997.8L1104.0 999.3L1106.0 998.0L1108.0 997.6L1110.0 998.2L1112.0 997.2L1114.0 998.2L1116.0 998.3L1118.0 997.9L1120.0 998.4L1122.0 997.8L1124.0 997.9L1126.0 996.9L1128.0 997.9L1130.0 997.2L1132.0 997.5L1134.0 997.7L1136.0 997.9L1138.0 996.7L1140.0 996.9L1142.0 997.5L1144.0 997.2L1146.0 996.1L1148.0 995.4L1150.0 994.4L1152.0 992.4L1154.0 990.4L1156.0 987.7L1158.0 985.5L1160.0 983.1L1162.0 979.8L1164.0 975.2L1166.0 969.9L1168.0 963.6L1170.0 957.4L1172.0 951.0L1174.0 945.4L1176.0 940.5L1178.0 937.7L1180.0 940.1L1182.0 945.4L1184.0 950.6L1186.0 955.8L1188.0 961.1L1190.0 968.5L1192.0 971.9L1194.0 978.2L1196.0 983.6L1198.0 985.8L1200.0 989.1L1202.0 992.5L1204.0 993.7L1206.0 995.1L1208.0 996.3L1210.0 997.0L1212.0 998.3L1214.0 998.2L1216.0 998.5L1218.0 999.2L1220.0 999.9L1222.0 999.6L1224.0 999.9L1226.0 998.2L1228.0 1000.5L1230.0 1001.3L1232.0 1000.7L1234.0 999.6L1236.0 999.3L1238.0 1000.1L1240.0 999.3L1242.0 1000.5L1244.0 999.6L1246.0 1000.7L1248.0 1000.9L1250.0 998.4L1252.0 999.9L1254.0 999.0L1256.0 998.3L1258.0 998.6L1260.0 998.6L1262.0 999.2L1264.0 997.2L1266.0 998.7L1268.0 999.0L1270.0 997.8L1272.0 997.4L1274.0 996.8L1276.0 995.7L1278.0 996.7L1280.0 996.4L1282.0 996.5L1284.0 997.4L1286.0 996.2L1288.0 996.0L1290.0 996.8L1292.0 994.8L1294.0 995.1L1296.0 995.8L1298.0 995.8L1300.0 997.0L1302.0 996.6L1304.0 998.3L1306.0 998.5L1308.0 998.3L1310.0 997.8L1312.0 998.9L1314.0 999.3L1316.0 998.4L1318.0 999.7L1320.0 1000.3L1322.0 1000.3L1324.0 1001.7L1326.0 1002.0L1328.0 1001.1L1330.0 1002.3L1332.0 1002.3L1334.0 1003.9L1336.0 1003.5L1338.0 1005.4L1340.0 1005.6L1342.0 1006.6L1344.0 1006.3L1346.0 1005.8L1348.0 1008.4L1350.0 1007.3L1352.0 1008.5L1354.0 1007.9L1356.0 1008.0L1358.0 1008.6L1360.0 1007.3L1362.0 1007.7L1364.0 1005.3L1366.0 1006.5L1368.0 1005.2L1370.0 1004.8L1372.0 1004.3L1374.0 1004.1L1376.0 1004.5L1378.0 1001.5L1380.0 1002.4L1382.0 1001.5L1384.0 1002.4L1386.0 1001.1L1388.0 1001.5L1390.0 1000.8L1392.0 1001.6L1394.0 1001.9L1396.0 1001.0L1398.0 1001.5L1400.0 1000.7L1402.0 1002.2L1404.0 1002.8L1406.0 1002.2L1408.0 1003.7L1410.0 1001.8L1412.0 1002.3L1414.0 1003.0L1416.0 1004.0L1418.0 1004.7L1420.0 1005.0L1422.0 1005.3L1424.0 1006.2L1426.0 1005.7L1428.0 1005.4L1430.0 1005.7L1432.0 1008.3L1434.0 1005.4L1436.0 1007.2L1438.0 1008.6L1440.0 1008.1L1442.0 1007.5L1444.0 1008.3L1446.0 1009.2L1448.0 1009.7L1450.0 1008.5L1452.0 1009.9L1454.0 1009.8L1456.0 1010.7L1458.0 1011.2L1460.0 1010.2L1462.0 1009.7L1464.0 1011.3L1466.0 1012.5L1468.0 1011.9L1470.0 1011.9L1472.0 1013.5L1474.0 1011.4L1476.0 1013.0L1478.0 1012.2L1480.0 1012.8L1482.0 1013.0L1484.0 1014.2L1486.0 1012.6L1488.0 1013.1L1490.0 1012.5L1492.0 1014.0L1494.0 1013.5L1496.0 1014.2L1498.0 1013.2L1500.0 1013.8L1502.0 1014.8L1504.0 1014.0L1506.0 1014.5L1508.0 1014.5L1510.0 1013.8L1512.0 1013.0L1514.0 1014.7L1516.0 1014.2L1518.0 1014.7L1520.0 1012.6L1522.0 1012.8L1524.0 1012.4L1526.0 1013.3L1528.0 1014.6L1530.0 1014.2L1532.0 1013.7L1534.0 1013.8L1536.0 1014.2L1538.0 1013.4L1540.0 1013.8L1542.0 1013.6L1544.0 1011.9L1546.0 1013.1L1548.0 1014.2L1550.0 1012.9L1552.0 1013.1L1554.0 1012.7L1556.0 1012.7L1558.0 1013.8L1560.0 1012.7L1562.0 1012.1L1564.0 1011.2L1566.0 1012.3L1568.0 1011.3L1570.0 1011.4L1572.0 1013.1L1574.0 1013.0L1576.0 1011.1L1578.0 1013.0L1580.0 1012.7L1582.0 1011.8L1584.0 1012.8L1586.0 1011.2L1588.0 1011.4L1590.0 1011.2L1592.0 1011.4L1594.0 1012.8L1596.0 1011.3L1598.0 1011.4L1600.0 1011.5L1602.0 1012.3L1604.0 1012.0L1606.0 1012.8L1608.0 1011.7L1610.0 1011.3L1612.0 1011.9L1614.0 1012.3L1616.0 1011.6L1618.0 1012.4L1620.0 1013.5L1622.0 1011.8L1624.0 1012.3L1626.0 1013.2L1628.0 1011.8L1630.0 1011.7L1632.0 1011.5L1634.0 1012.6L1636.0 1012.7L1638.0 1012.2L1640.0 1012.4L1642.0 1013.3L1644.0 1013.0L1646.0 1011.4L1648.0 1012.4L1650.0 1012.5L1652.0 1013.0L1654.0 1012.3L1656.0 1012.1L1658.0 1012.2L1660.0 1011.3L1662.0 1012.6L1664.0 1012.2L1666.0 1012.9L1668.0 1011.9L1670.0 1012.3L1672.0 1012.0L1674.0 1012.0L1676.0 1013.2L1678.0 1012.4L1680.0 1013.1L1682.0 1012.0L1684.0 1012.9L1686.0 1011.7L1688.0 1012.5L1690.0 1012.5L1692.0 1013.3L1694.0 1013.1L1696.0 1012.8L1698.0 1013.6L1700.0 1013.1L1702.0 1013.4L1704.0 1013.6L1706.0 1013.1L1708.0 1013.0L1710.0 1013.4L1712.0 1013.0L1714.0 1013.6L1716.0 1014.2L1718.0 1014.0L1720.0 1013.2L1722.0 1012.7L1724.0 1013.6L1726.0 1013.6L1728.0 1014.5L1730.0 1013.6L1732.0 1013.8L1734.0 1014.5L1736.0 1013.7L1738.0 1014.0L1740.0 1015.4L1742.0 1015.4L1744.0 1014.8L1746.0 1014.7L1748.0 1013.9L1750.0 1015.0L1752.0 1014.8L1754.0 1015.0L1756.0 1014.5L1758.0 1015.0L1760.0 1014.9L1762.0 1015.4L1764.0 1016.2L1766.0 1015.6L1768.0 1014.2L1770.0 1014.8L1772.0 1014.4L1774.0 1015.1L1776.0 1016.1L1778.0 1016.1L1780.0 1015.4L1782.0 1016.1L1784.0 1015.5L1786.0 1015.1L1788.0 1015.1L1790.0 1015.6L1792.0 1017.2L1794.0 1015.4L1796.0 1017.2L1798.0 1017.3L1800.0 1016.3L1802.0 1016.4L1804.0 1016.1L1806.0 1016.5L1808.0 1017.0L1810.0 1016.6L1812.0 1017.3L1814.0 1017.5L1816.0 1016.9L1818.0 1016.9L1820.0 1016.6L1822.0 1016.9L1824.0 1015.9L1826.0 1016.9L1828.0 1016.7L1830.0 1015.8L1832.0 1017.9L1834.0 1015.6L1836.0 1015.5L1838.0 1016.2L1840.0 1014.5L1842.0 1015.1L1844.0 1014.4L1846.0 1014.7L1848.0 1015.1L1850.0 1015.2L1852.0 1015.5L1854.0 1015.1L1856.0 1015.2L1858.0 1014.6L1860.0 1013.6L1862.0 1014.5L1864.0 1013.2L1866.0 1012.9L1868.0 1014.1L1870.0 1013.4L1872.0 1012.8L1874.0 1013.0L1876.0 1012.9L1878.0 1011.1L1880.0 1011.8L1882.0 1010.9L1884.0 1011.6L1886.0 1010.9L1888.0 1012.1L1890.0 1011.4L1892.0 1010.4L1894.0 1010.8L1896.0 1009.9L1898.0 1010.7L1900.0 1010.9L1902.0 1010.7L1904.0 1009.1L1906.0 1010.2L1908.0 1010.8L1910.0 1010.7L1912.0 1011.3L1914.0 1009.6L1916.0 1010.9L1918.0 1010.1L1920.0 1010.7L1922.0 1010.9L1924.0 1011.2L1926.0 1010.3L1928.0 1010.9L1930.0 1010.0L1932.0 1009.9L1934.0 1011.4L1936.0 1011.0L1938.0 1010.0L1940.0 1010.7L1942.0 1011.4L1944.0 1012.6L1946.0 1012.3L1948.0 1012.3L1950.0 1010.6L1952.0 1011.9L1954.0 1012.4L1956.0 1012.5L1958.0 1012.7L1960.0 1012.4L1962.0 1013.9L1964.0 1013.9L1966.0 1013.0L1968.0 1012.5L1970.0 1014.9L1972.0 1013.2L1974.0 1014.6L1976.0 1015.3L1978.0 1013.6L1980.0 1014.6L1982.0 1014.4L1984.0 1015.3L1986.0 1015.4L1988.0 1016.7L1990.0 1016.0L1992.0 1015.9L1994.0 1016.9L1996.0 1016.2L1998.0 1016.4L2000.0 1018.5L2002.0 1016.7L2004.0 1017.2L2006.0 1017.9L2008.0 1017.4L2010.0 1017.0L2012.0 1019.5L2014.0 1018.6" stroke="#176CE0"/>
<path d="M218.0 1123.0L220.0 1123.7L222.0 1123.9L224.0 1124.5L226.0 1126.2L228.0 1128.5L230.0 1128.5L232.0 1129.6L234.0 1129.3L236.0 1131.4L238.0 1131.6L240.0 1133.8L242.0 1133.7L244.0 1134.4L246.0 1134.8L248.0 1134.8L250.0 1134.6L252.0 1136.5L254.0 1135.6L256.0 1136.2L258.0 1137.2L260.0 1137.3L262.0 1138.3L264.0 1139.1L266.0 1138.7L268.0 1138.8L270.0 1138.8L272.0 1139.5L274.0 1137.8L276.0 1139.4L278.0 1138.6L280.0 1138.5L282.0 1139.4L284.0 1139.2L286.0 1140.0L288.0 1140.4L290.0 1138.2L292.0 1139.7L294.0 1141.2L296.0 1140.5L298.0 1141.0L300.0 1140.1L302.0 1139.1L304.0 1139.4L306.0 1140.8L308.0 1141.1L310.0 1140.0L312.0 1140.4L314.0 1140.9L316.0 1139.6L318.0 1140.7L320.0 1142.1L322.0 1142.6L324.0 1141.1L326.0 1142.6L328.0 1141.0L330.0 1140.9L332.0 1140.1L334.0 1142.4L336.0 1141.6L338.0 1143.6L340.0 1142.3L342.0 1142.3L344.0 1141.0L346.0 1143.4L348.0 1142.2L350.0 1142.4L352.0 1141.1L354.0 1143.4L356.0 1143.5L358.0 1142.5L360.0 1143.1L362.0 1143.5L364.0 1144.0L366.0 1143.5L368.0 1144.7L370.0 1143.5L372.0 1143.3L374.0 1143.5L376.0 1142.4L378.0 1143.5L380.0 1144.9L382.0 1144.4L384.0 1143.8L386.0 1144.7L388.0 1143.1L390.0 1144.4L392.0 1145.1L394.0 1145.3L396.0 1144.3L398.0 1145.5L400.0 1146.3L402.0 1144.7L404.0 1145.6L406.0 1144.1L408.0 1143.9L410.0 1145.7L412.0 1145.4L414.0 1145.6L416.0 1145.1L418.0 1145.4L420.0 1146.2L422.0 1146.9L424.0 1145.6L426.0 1144.6L428.0 1146.7L430.0 1146.2L432.0 1146.3L434.0 1146.0L436.0 1147.5L438.0 1145.9L440.0 1146.2L442.0 1144.5L444.0 1145.4L446.0 1145.2L448.0 1145.6L450.0 1145.7L452.0 1144.9L454.0 1146.5L456.0 1144.3L458.0 1144.6L460.0 1144.9L462.0 1143.7L464.0 1144.8L466.0 1144.6L468.0 1143.7L470.0 1145.0L472.0 1143.3L474.0 1142.9L476.0 1141.2L478.0 1139.8L480.0 1139.4L482.0 1138.6L484.0 1137.3L486.0 1137.1L488.0 1133.9L490.0 1133.8L492.0 1132.5L494.0 1133.9L496.0 1131.8L498.0 1131.0L500.0 1129.7L502.0 1130.4L504.0 1128.9L506.0 1128.9L508.0 1127.1L510.0 1129.3L512.0 1129.1L514.0 1129.8L516.0 1131.1L518.0 1131.0L520.0 1132.2L522.0 1133.9L524.0 1134.9L526.0 1135.6L528.0 1136.9L530.0 1137.5L532.0 1139.4L534.0 1140.7L536.0 1141.3L538.0 1143.8L540.0 1142.5L542.0 1144.3L544.0 1146.5L546.0 1145.6L548.0 1145.2L550.0 1147.7L552.0 1147.5L554.0 1146.7L556.0 1148.4L558.0 1147.5L560.0 1147.6L562.0 1148.8L564.0 1148.9L566.0 1148.7L568.0 1149.5L570.0 1149.3L572.0 1150.3L574.0 1150.4L576.0 1151.1L578.0 1150.5L580.0 1150.0L582.0 1150.1L584.0 1151.0L586.0 1152.3L588.0 1151.8L590.0 1150.8L592.0 1151.9L594.0 1150.5L596.0 1152.0L598.0 1151.0L600.0 1151.9L602.0 1151.8L604.0 1151.1L606.0 1151.6L608.0 1150.6L610.0 1151.3L612.0 1152.1L614.0 1153.0L616.0 1151.8L618.0 1151.4L620.0 1150.7L622.0 1152.1L624.0 1150.2L626.0 1150.8L628.0 1151.6L630.0 1150.5L632.0 1152.2L634.0 1151.1L636.0 1148.8L638.0 1147.5L640.0 1145.6L642.0 1143.9L644.0 1143.2L646.0 1140.8L648.0 1137.4L650.0 1131.2L652.0 1123.1L654.0 1119.0L656.0 1113.7L658.0 1111.5L660.0 1109.6L662.0 1107.0L664.0 1104.1L666.0 1103.2L668.0 1103.6L670.0 1103.6L672.0 1101.6L674.0 1103.0L676.0 1104.4L678.0 1106.2L680.0 1106.0L682.0 1108.7L684.0 1109.9L686.0 1113.5L688.0 1113.8L690.0 1115.0L692.0 1116.5L694.0 1119.0L696.0 1120.3L698.0 1120.6L700.0 1123.1L702.0 1123.6L704.0 1125.5L706.0 1126.6L708.0 1127.8L710.0 1129.2L712.0 1129.7L714.0 1131.4L716.0 1132.1L718.0 1131.9L720.0 1131.7L722.0 1133.5L724.0 1132.0L726.0 1132.5L728.0 1134.8L730.0 1135.1L732.0 1135.7L734.0 1135.2L736.0 1134.9L738.0 1135.7L740.0 1136.8L742.0 1136.2L744.0 1136.6L746.0 1136.5L748.0 1137.0L750.0 1138.9L752.0 1139.2L754.0 1138.6L756.0 1139.2L758.0 1140.1L760.0 1141.5L762.0 1140.8L764.0 1142.1L766.0 1141.1L768.0 1142.2L770.0 1143.7L772.0 1144.3L774.0 1143.1L776.0 1143.6L778.0 1144.9L780.0 1144.2L782.0 1144.3L784.0 1145.2L786.0 1145.1L788.0 1146.0L790.0 1146.0L792.0 1145.2L794.0 1145.8L796.0 1146.2L798.0 1145.6L800.0 1146.3L802.0 1148.1L804.0 1146.7L806.0 1148.9L808.0 1148.9L810.0 1149.0L812.0 1149.9L814.0 1150.3L816.0 1151.3L818.0 1150.7L820.0 1151.4L822.0 1152.0L824.0 1154.1L826.0 1154.0L828.0 1153.2L830.0 1154.1L832.0 1154.3L834.0 1155.2L836.0 1155.6L838.0 1157.2L840.0 1154.6L842.0 1156.8L844.0 1156.5L846.0 1155.9L848.0 1156.5L850.0 1156.4L852.0 1157.0L854.0 1157.8L856.0 1156.1L858.0 1158.2L860.0 1157.1L862.0 1158.5L864.0 1157.8L866.0 1158.4L868.0 1158.0L870.0 1158.3L872.0 1157.6L874.0 1157.0L876.0 1158.0L878.0 1158.0L880.0 1159.0L882.0 1156.1L884.0 1157.3L886.0 1158.2L888.0 1156.5L890.0 1157.2L892.0 1158.8L894.0 1158.3L896.0 1156.6L898.0 1158.2L900.0 1158.0L902.0 1157.6L904.0 1157.3L906.0 1157.1L908.0 1156.3L910.0 1156.5L912.0 1157.3L914.0 1156.8L916.0 1158.0L918.0 1156.4L920.0 1155.0L922.0 1156.3L924.0 1156.6L926.0 1156.6L928.0 1156.3L930.0 1155.6L932.0 1157.1L934.0 1155.4L936.0 1156.3L938.0 1155.4L940.0 1154.6L942.0 1156.3L944.0 1153.6L946.0 1154.4L948.0 1155.1L950.0 1154.4L952.0 1155.0L954.0 1154.3L956.0 1153.9L958.0 1155.6L960.0 1153.8L962.0 1153.7L964.0 1152.9L966.0 1153.0L968.0 1153.9L970.0 1153.8L972.0 1153.3L974.0 1152.8L976.0 1153.8L978.0 1152.1L980.0 1153.1L982.0 1153.1L984.0 1152.7L986.0 1153.4L988.0 1152.9L990.0 1152.8L992.0 1154.7L994.0 1154.0L996.0 1154.3L998.0 1153.6L1000.0 1154.2L1002.0 1154.2L1004.0 1154.5L1006.0 1155.3L1008.0 1153.6L1010.0 1154.0L1012.0 1153.8L1014.0 1152.3L1016.0 1153.0L1018.0 1154.0L1020.0 1154.5L1022.0 1153.7L1024.0 1154.9L1026.0 1155.1L1028.0 1153.9L1030.0 1155.3L1032.0 1155.5L1034.0 1154.7L1036.0 1153.7L1038.0 1155.5L1040.0 1154.4L1042.0 1154.3L1044.0 1154.7L1046.0 1154.3L1048.0 1155.5L1050.0 1155.3L1052.0 1155.7L1054.0 1155.3L1056.0 1154.4L1058.0 1154.9L1060.0 1155.6L1062.0 1154.8L1064.0 1156.7L1066.0 1155.0L1068.0 1154.8L1070.0 1156.0L1072.0 1155.8L1074.0 1155.3L1076.0 1155.2L1078.0 1155.7L1080.0 1156.0L1082.0 1155.9L1084.0 1155.2L1086.0 1155.7L1088.0 1156.0L1090.0 1155.9L1092.0 1153.8L1094.0 1154.7L1096.0 1154.8L1098.0 1155.1L1100.0 1155.4L1102.0 1155.8L1104.0 1155.6L1106.0 1155.0L1108.0 1155.1L1110.0 1156.3L1112.0 1154.5L1114.0 1155.1L1116.0 1156.0L1118.0 1155.1L1120.0 1153.4L1122.0 1155.0L1124.0 1154.4L1126.0 1154.6L1128.0 1155.4L1130.0 1155.0L1132.0 1154.4L1134.0 1155.2L1136.0 1154.9L1138.0 1154.9L1140.0 1155.2L1142.0 1155.0L1144.0 1154.1L1146.0 1153.2L1148.0 1152.5L1150.0 1150.5L1152.0 1148.9L1154.0 1149.2L1156.0 1146.3L1158.0 1143.6L1160.0 1140.0L1162.0 1136.1L1164.0 1131.0L1166.0 1124.6L1168.0 1117.7L1170.0 1112.8L1172.0 1107.7L1174.0 1107.3L1176.0 1107.8L1178.0 1112.6L1180.0 1120.2L1182.0 1125.4L1184.0 1130.9L1186.0 1136.6L1188.0 1140.1L1190.0 1144.8L1192.0 1146.0L1194.0 1149.2L1196.0 1150.7L1198.0 1153.0L1200.0 1154.5L1202.0 1154.3L1204.0 1156.7L1206.0 1155.8L1208.0 1155.2L1210.0 1155.5L1212.0 1158.5L1214.0 1157.7L1216.0 1157.5L1218.0 1157.5L1220.0 1157.2L1222.0 1158.9L1224.0 1157.9L1226.0 1159.2L1228.0 1157.8L1230.0 1156.4L1232.0 1158.6L1234.0 1157.7L1236.0 1157.8L1238.0 1159.0L1240.0 1157.7L1242.0 1158.7L1244.0 1157.9L1246.0 1157.4L1248.0 1158.2L1250.0 1157.4L1252.0 1158.7L1254.0 1158.5L1256.0 1157.8L1258.0 1158.2L1260.0 1158.0L1262.0 1157.2L1264.0 1157.8L1266.0 1156.7L1268.0 1156.9L1270.0 1155.4L1272.0 1155.7L1274.0 1155.5L1276.0 1154.3L1278.0 1154.1L1280.0 1153.5L1282.0 1154.0L1284.0 1152.6L1286.0 1153.0L1288.0 1153.4L1290.0 1152.3L1292.0 1150.6L1294.0 1151.6L1296.0 1152.1L1298.0 1151.1L1300.0 1152.1L1302.0 1151.9L1304.0 1152.0L1306.0 1151.9L1308.0 1152.1L1310.0 1152.8L1312.0 1153.7L1314.0 1154.6L1316.0 1155.3L1318.0 1155.5L1320.0 1156.5L1322.0 1157.5L1324.0 1156.8L1326.0 1158.1L1328.0 1158.8L1330.0 1159.9L1332.0 1160.4L1334.0 1160.9L1336.0 1160.9L1338.0 1162.3L1340.0 1162.3L1342.0 1161.1L1344.0 1162.2L1346.0 1161.3L1348.0 1163.2L1350.0 1161.5L1352.0 1161.3L1354.0 1161.3L1356.0 1160.8L1358.0 1160.6L1360.0 1161.4L1362.0 1160.1L1364.0 1160.1L1366.0 1159.9L1368.0 1158.1L1370.0 1159.6L1372.0 1158.5L1374.0 1158.4L1376.0 1156.8L1378.0 1157.8L1380.0 1157.3L1382.0 1156.5L1384.0 1158.3L1386.0 1157.1L1388.0 1156.6L1390.0 1157.0L1392.0 1157.6L1394.0 1157.9L1396.0 1157.7L1398.0 1158.4L1400.0 1158.8L1402.0 1157.2L1404.0 1158.1L1406.0 1158.1L1408.0 1159.1L1410.0 1160.4L1412.0 1160.2L1414.0 1159.4L1416.0 1160.2L1418.0 1161.5L1420.0 1160.7L1422.0 1161.3L1424.0 1161.8L1426.0 1160.6L1428.0 1162.6L1430.0 1162.5L1432.0 1162.8L1434.0 1161.9L1436.0 1162.2L1438.0 1162.5L1440.0 1163.2L1442.0 1163.3L1444.0 1163.5L1446.0 1164.8L1448.0 1164.6L1450.0 1163.3L1452.0 1163.5L1454.0 1165.4L1456.0 1164.1L1458.0 1165.4L1460.0 1165.7L1462.0 1164.3L1464.0 1164.7L1466.0 1165.1L1468.0 1164.5L1470.0 1164.6L1472.0 1165.1L1474.0 1166.1L1476.0 1165.3L1478.0 1165.6L1480.0 1165.5L1482.0 1164.9L1484.0 1167.0L1486.0 1164.5L1488.0 1165.7L1490.0 1166.6L1492.0 1165.3L1494.0 1166.8L1496.0 1167.3L1498.0 1165.8L1500.0 1166.6L1502.0 1165.7L1504.0 1166.9L1506.0 1166.6L1508.0 1166.7L1510.0 1167.5L1512.0 1166.9L1514.0 1167.5L1516.0 1167.0L1518.0 1165.7L1520.0 1166.7L1522.0 1166.9L1524.0 1165.6L1526.0 1167.5L1528.0 1166.6L1530.0 1166.8L1532.0 1166.0L1534.0 1166.6L1536.0 1166.8L1538.0 1166.4L1540.0 1166.7L1542.0 1165.1L1544.0 1167.6L1546.0 1165.8L1548.0 1165.1L1550.0 1165.9L1552.0 1166.0L1554.0 1167.0L1556.0 1166.0L1558.0 1166.8L1560.0 1165.9L1562.0 1168.2L1564.0 1167.0L1566.0 1168.0L1568.0 1165.9L1570.0 1167.1L1572.0 1166.0L1574.0 1167.0L1576.0 1167.1L1578.0 1165.5L1580.0 1165.8L1582.0 1165.8L1584.0 1165.6L1586.0 1166.1L1588.0 1166.0L1590.0 1165.6L1592.0 1166.7L1594.0 1167.0L1596.0 1165.7L1598.0 1166.3L1600.0 1166.7L1602.0 1166.5L1604.0 1166.2L1606.0 1167.2L1608.0 1167.3L1610.0 1167.2L1612.0 1166.5L1614.0 1168.1L1616.0 1167.9L1618.0 1166.4L1620.0 1166.6L1622.0 1167.5L1624.0 1166.2L1626.0 1167.0L1628.0 1166.8L1630.0 1166.3L1632.0 1166.6L1634.0 1165.7L1636.0 1166.4L1638.0 1165.4L1640.0 1168.4L1642.0 1167.9L1644.0 1167.8L1646.0 1167.1L1648.0 1167.6L1650.0 1167.9L1652.0 1167.7L1654.0 1167.7L1656.0 1166.4L1658.0 1167.4L1660.0 1166.8L1662.0 1166.4L1664.0 1166.4L1666.0 1167.6L1668.0 1168.1L1670.0 1166.4L1672.0 1168.6L1674.0 1168.5L1676.0 1167.2L1678.0 1167.2L1680.0 1167.6L1682.0 1168.3L1684.0 1167.4L1686.0 1167.0L1688.0 1168.0L1690.0 1166.4L1692.0 1168.0L1694.0 1168.8L1696.0 1168.2L1698.0 1168.6L1700.0 1168.5L1702.0 1168.7L1704.0 1168.3L1706.0 1167.7L1708.0 1168.1L1710.0 1168.3L1712.0 1169.3L1714.0 1169.6L1716.0 1168.8L1718.0 1168.0L1720.0 1168.1L1722.0 1168.5L1724.0 1169.7L1726.0 1169.0L1728.0 1168.7L1730.0 1168.3L1732.0 1169.5L1734.0 1169.1L1736.0 1168.9L1738.0 1169.0L1740.0 1170.2L1742.0 1168.9L1744.0 1170.2L1746.0 1170.0L1748.0 1169.2L1750.0 1169.8L1752.0 1169.1L1754.0 1168.6L1756.0 1169.1L1758.0 1168.6L1760.0 1169.7L1762.0 1169.3L1764.0 1169.8L1766.0 1170.0L1768.0 1167.8L1770.0 1169.7L1772.0 1168.2L1774.0 1169.6L1776.0 1168.9L1778.0 1169.7L1780.0 1170.6L1782.0 1168.5L1784.0 1169.8L1786.0 1169.7L1788.0 1168.4L1790.0 1170.2L1792.0 1169.8L1794.0 1169.5L1796.0 1169.4L1798.0 1171.5L1800.0 1169.7L1802.0 1168.7L1804.0 1169.3L1806.0 1169.8L1808.0 1169.8L1810.0 1170.0L1812.0 1169.4L1814.0 1170.5L1816.0 1169.8L1818.0 1169.2L1820.0 1169.6L1822.0 1169.9L1824.0 1170.8L1826.0 1170.6L1828.0 1170.0L1830.0 1170.3L1832.0 1170.4L1834.0 1171.7L1836.0 1169.9L1838.0 1170.7L1840.0 1170.9L1842.0 1169.7L1844.0 1170.5L1846.0 1170.5L1848.0 1170.1L1850.0 1170.8L1852.0 1171.1L1854.0 1171.2L1856.0 1170.3L1858.0 1170.5L1860.0 1172.0L1862.0 1169.5L1864.0 1170.3L1866.0 1170.6L1868.0 1169.9L1870.0 1170.0L1872.0 1169.4L1874.0 1169.6L1876.0 1169.7L1878.0 1168.3L1880.0 1168.3L1882.0 1167.8L1884.0 1167.3L1886.0 1167.3L1888.0 1166.2L1890.0 1167.2L1892.0 1167.6L1894.0 1167.4L1896.0 1166.9L1898.0 1165.1L1900.0 1166.7L1902.0 1165.0L1904.0 1165.4L1906.0 1166.7L1908.0 1164.6L1910.0 1166.0L1912.0 1165.6L1914.0 1165.3L1916.0 1164.8L1918.0 1165.7L1920.0 1165.1L1922.0 1166.2L1924.0 1166.3L1926.0 1164.5L1928.0 1165.1L1930.0 1165.2L1932.0 1164.7L1934.0 1164.7L1936.0 1165.6L1938.0 1165.4L1940.0 1164.4L1942.0 1165.3L1944.0 1166.0L1946.0 1164.9L1948.0 1165.1L1950.0 1166.9L1952.0 1166.8L1954.0 1164.8L1956.0 1165.1L1958.0 1166.4L1960.0 1165.3L1962.0 1166.1L1964.0 1166.0L1966.0 1166.9L1968.0 1165.0L1970.0 1165.2L1972.0 1166.0L1974.0 1167.7L1976.0 1167.0L1978.0 1166.1L1980.0 1167.8L1982.0 1168.1L1984.0 1167.6L1986.0 1167.7L1988.0 1168.5L1990.0 1169.2L1992.0 1168.7L1994.0 1169.2L1996.0 1169.0L1998.0 1169.0L2000.0 1168.9L2002.0 1170.0L2004.0 1169.9L2006.0 1170.2L2008.0 1171.4L2010.0 1171.4L2012.0 1172.0L2014.0 1170.6" stroke="#F54242"/>
<path d="M218.0 1267.3L220.0 1267.1L222.0 1267.6L224.0 1268.2L226.0 1270.4L228.0 1271.0L230.0 1270.9L232.0 1271.6L234.0 1273.6L236.0 1274.3L238.0 1276.9L240.0 1275.7L242.0 1276.4L244.0 1278.4L246.0 1279.5L248.0 1280.4L250.0 1281.5L252.0 1283.0L254.0 1281.9L256.0 1282.3L258.0 1281.9L260.0 1283.7L262.0 1284.5L264.0 1284.0L266.0 1285.2L268.0 1284.6L270.0 1285.9L272.0 1285.2L274.0 1284.4L276.0 1284.8L278.0 1284.4L280.0 1284.4L282.0 1285.9L284.0 1286.4L286.0 1287.3L288.0 1286.0L290.0 1286.0L292.0 1285.5L294.0 1287.0L296.0 1286.7L298.0 1286.1L300.0 1287.1L302.0 1287.1L304.0 1285.5L306.0 1287.5L308.0 1287.1L310.0 1286.9L312.0 1287.0L314.0 1288.6L316.0 1288.5L318.0 1288.8L320.0 1286.8L322.0 1287.3L324.0 1288.5L326.0 1287.1L328.0 1287.5L330.0 1286.8L332.0 1289.5L334.0 1289.0L336.0 1288.7L338.0 1288.6L340.0 1288.3L342.0 1288.4L344.0 1289.2L346.0 1288.4L348.0 1289.8L350.0 1288.7L352.0 1288.6L354.0 1290.2L356.0 1289.4L358.0 1290.0L360.0 1289.5L362.0 1288.4L364.0 1290.5L366.0 1289.4L368.0 1291.2L370.0 1289.6L372.0 1289.5L374.0 1291.2L376.0 1291.5L378.0 1291.4L380.0 1290.7L382.0 1292.3L384.0 1290.8L386.0 1291.7L388.0 1291.6L390.0 1292.0L392.0 1292.9L394.0 1292.0L396.0 1292.9L398.0 1293.0L400.0 1291.4L402.0 1291.9L404.0 1292.5L406.0 1292.4L408.0 1293.1L410.0 1291.6L412.0 1293.5L414.0 1293.6L416.0 1293.0L418.0 1292.3L420.0 1293.3L422.0 1292.9L424.0 1293.8L426.0 1293.3L428.0 1293.9L430.0 1293.2L432.0 1294.5L434.0 1291.9L436.0 1292.8L438.0 1293.8L440.0 1292.4L442.0 1293.9L444.0 1292.4L446.0 1293.2L448.0 1292.3L450.0 1292.4L452.0 1292.6L454.0 1292.1L456.0 1291.6L458.0 1293.1L460.0 1291.2L462.0 1290.2L464.0 1291.1L466.0 1290.6L468.0 1290.4L470.0 1290.4L472.0 1287.8L474.0 1288.4L476.0 1287.4L478.0 1285.3L480.0 1284.1L482.0 1280.8L484.0 1280.5L486.0 1280.6L488.0 1276.5L490.0 1275.8L492.0 1275.0L494.0 1273.6L496.0 1272.5L498.0 1268.1L500.0 1267.4L502.0 1266.1L504.0 1263.0L506.0 1262.7L508.0 1263.4L510.0 1263.0L512.0 1263.1L514.0 1262.2L516.0 1265.3L518.0 1267.6L520.0 1269.2L522.0 1271.6L524.0 1275.4L526.0 1275.7L528.0 1277.0L530.0 1279.5L532.0 1280.9L534.0 1282.7L536.0 1284.7L538.0 1287.0L540.0 1288.2L542.0 1288.6L544.0 1290.5L546.0 1291.6L548.0 1291.5L550.0 1293.2L552.0 1293.4L554.0 1292.7L556.0 1294.0L558.0 1295.6L560.0 1295.7L562.0 1295.0L564.0 1296.0L566.0 1295.3L568.0 1295.1L570.0 1296.8L572.0 1296.8L574.0 1297.2L576.0 1297.1L578.0 1297.5L580.0 1297.1L582.0 1297.9L584.0 1298.3L586.0 1297.7L588.0 1298.4L590.0 1296.6L592.0 1297.2L594.0 1298.8L596.0 1299.0L598.0 1298.0L600.0 1297.7L602.0 1296.9L604.0 1298.0L606.0 1298.3L608.0 1296.7L610.0 1298.2L612.0 1298.1L614.0 1298.1L616.0 1297.0L618.0 1298.1L620.0 1296.7L622.0 1298.8L624.0 1297.8L626.0 1296.9L628.0 1298.7L630.0 1298.5L632.0 1296.9L634.0 1297.9L636.0 1294.3L638.0 1293.5L640.0 1292.2L642.0 1287.3L644.0 1286.2L646.0 1281.1L648.0 1275.2L650.0 1264.7L652.0 1257.5L654.0 1249.9L656.0 1244.5L658.0 1240.4L660.0 1236.2L662.0 1235.2L664.0 1230.3L666.0 1228.8L668.0 1228.5L670.0 1228.4L672.0 1228.8L674.0 1228.9L676.0 1229.0L678.0 1230.3L680.0 1233.1L682.0 1236.6L684.0 1239.3L686.0 1241.3L688.0 1243.1L690.0 1248.7L692.0 1250.2L694.0 1251.9L696.0 1253.9L698.0 1255.1L700.0 1256.6L702.0 1258.8L704.0 1260.7L706.0 1262.2L708.0 1263.2L710.0 1265.4L712.0 1267.3L714.0 1267.7L716.0 1269.1L718.0 1268.6L720.0 1270.8L722.0 1271.5L724.0 1271.2L726.0 1271.3L728.0 1273.2L730.0 1272.7L732.0 1274.0L734.0 1273.7L736.0 1274.9L738.0 1274.7L740.0 1274.3L742.0 1275.8L744.0 1276.1L746.0 1277.4L748.0 1277.2L750.0 1278.1L752.0 1279.8L754.0 1280.9L756.0 1281.5L758.0 1282.5L760.0 1282.9L762.0 1283.8L764.0 1284.5L766.0 1284.9L768.0 1285.3L770.0 1286.0L772.0 1288.1L774.0 1287.1L776.0 1287.4L778.0 1287.9L780.0 1288.6L782.0 1289.2L784.0 1288.7L786.0 1288.5L788.0 1290.4L790.0 1289.4L792.0 1291.0L794.0 1291.3L796.0 1292.3L798.0 1292.9L800.0 1292.3L802.0 1291.9L804.0 1291.8L806.0 1292.4L808.0 1293.3L810.0 1292.1L812.0 1294.0L814.0 1294.3L816.0 1295.2L818.0 1294.9L820.0 1295.7L822.0 1295.7L824.0 1296.4L826.0 1296.0L828.0 1297.9L830.0 1299.4L832.0 1299.0L834.0 1299.6L836.0 1299.2L838.0 1301.4L840.0 1300.3L842.0 1301.8L844.0 1301.7L846.0 1301.3L848.0 1302.9L850.0 1302.5L852.0 1302.9L854.0 1303.4L856.0 1303.3L858.0 1303.3L860.0 1304.2L862.0 1303.8L864.0 1304.3L866.0 1304.0L868.0 1303.6L870.0 1304.4L872.0 1304.6L874.0 1305.1L876.0 1306.0L878.0 1304.0L880.0 1305.3L882.0 1303.6L884.0 1304.4L886.0 1304.8L888.0 1303.6L890.0 1303.8L892.0 1305.2L894.0 1305.1L896.0 1304.9L898.0 1304.4L900.0 1306.4L902.0 1304.7L904.0 1304.2L906.0 1305.9L908.0 1305.1L910.0 1304.3L912.0 1305.3L914.0 1304.5L916.0 1304.8L918.0 1304.4L920.0 1303.5L922.0 1304.8L924.0 1304.1L926.0 1303.2L928.0 1303.2L930.0 1304.2L932.0 1303.1L934.0 1303.1L936.0 1303.3L938.0 1302.7L940.0 1301.3L942.0 1302.5L944.0 1302.4L946.0 1302.1L948.0 1302.4L950.0 1301.2L952.0 1301.3L954.0 1301.6L956.0 1300.1L958.0 1301.4L960.0 1301.2L962.0 1300.4L964.0 1301.1L966.0 1300.4L968.0 1299.2L970.0 1300.6L972.0 1300.0L974.0 1300.1L976.0 1299.9L978.0 1300.8L980.0 1300.2L982.0 1299.3L984.0 1300.1L986.0 1300.3L988.0 1299.3L990.0 1299.5L992.0 1299.5L994.0 1299.4L996.0 1300.0L998.0 1300.5L1000.0 1301.1L1002.0 1300.6L1004.0 1300.5L1006.0 1300.6L1008.0 1300.7L1010.0 1299.5L1012.0 1300.3L1014.0 1300.0L1016.0 1299.7L1018.0 1299.5L1020.0 1299.4L1022.0 1299.6L1024.0 1298.9L1026.0 1300.2L1028.0 1299.8L1030.0 1299.9L1032.0 1300.0L1034.0 1300.3L1036.0 1299.4L1038.0 1299.8L1040.0 1298.8L1042.0 1298.5L1044.0 1298.7L1046.0 1301.3L1048.0 1299.0L1050.0 1300.7L1052.0 1301.5L1054.0 1300.3L1056.0 1301.9L1058.0 1302.2L1060.0 1301.7L1062.0 1302.7L1064.0 1301.7L1066.0 1300.8L1068.0 1301.8L1070.0 1301.2L1072.0 1300.7L1074.0 1300.8L1076.0 1303.4L1078.0 1301.5L1080.0 1301.9L1082.0 1301.5L1084.0 1302.1L1086.0 1301.8L1088.0 1301.7L1090.0 1301.1L1092.0 1301.0L1094.0 1301.4L1096.0 1302.1L1098.0 1303.3L1100.0 1302.6L1102.0 1303.1L1104.0 1302.1L1106.0 1301.6L1108.0 1300.7L1110.0 1301.5L1112.0 1299.9L1114.0 1301.1L1116.0 1302.4L1118.0 1301.4L1120.0 1301.8L1122.0 1300.6L1124.0 1299.8L1126.0 1300.3L1128.0 1300.2L1130.0 1301.2L1132.0 1301.5L1134.0 1299.5L1136.0 1299.6L1138.0 1299.4L1140.0 1298.8L1142.0 1297.6L1144.0 1297.8L1146.0 1297.2L1148.0 1296.3L1150.0 1294.2L1152.0 1293.7L1154.0 1291.0L1156.0 1290.7L1158.0 1285.6L1160.0 1280.6L1162.0 1274.4L1164.0 1268.2L1166.0 1258.8L1168.0 1241.1L1170.0 1235.5L1172.0 1230.2L1174.0 1228.0L1176.0 1230.8L1178.0 1233.5L1180.0 1244.0L1182.0 1263.6L1184.0 1271.9L1186.0 1277.3L1188.0 1283.5L1190.0 1288.4L1192.0 1291.8L1194.0 1294.7L1196.0 1294.3L1198.0 1297.0L1200.0 1297.7L1202.0 1298.5L1204.0 1297.9L1206.0 1300.2L1208.0 1299.2L1210.0 1299.8L1212.0 1299.7L1214.0 1298.9L1216.0 1299.9L1218.0 1299.0L1220.0 1299.7L1222.0 1300.2L1224.0 1300.5L1226.0 1300.6L1228.0 1300.5L1230.0 1302.1L1232.0 1301.0L1234.0 1299.9L1236.0 1300.3L1238.0 1300.3L1240.0 1300.7L1242.0 1300.4L1244.0 1300.3L1246.0 1302.0L1248.0 1300.9L1250.0 1300.7L1252.0 1300.7L1254.0 1300.8L1256.0 1301.9L1258.0 1301.2L1260.0 1301.5L1262.0 1298.9L1264.0 1300.5L1266.0 1300.7L1268.0 1301.0L1270.0 1299.3L1272.0 1297.7L1274.0 1298.8L1276.0 1297.6L1278.0 1296.3L1280.0 1296.8L1282.0 1297.5L1284.0 1297.3L1286.0 1296.6L1288.0 1295.1L1290.0 1297.2L1292.0 1294.7L1294.0 1295.4L1296.0 1294.4L1298.0 1296.5L1300.0 1296.0L1302.0 1296.5L1304.0 1296.3L1306.0 1296.5L1308.0 1297.1L1310.0 1296.0L1312.0 1298.5L1314.0 1298.9L1316.0 1298.4L1318.0 1299.2L1320.0 1299.8L1322.0 1301.2L1324.0 1301.0L1326.0 1301.4L1328.0 1301.8L1330.0 1301.9L1332.0 1303.4L1334.0 1304.8L1336.0 1305.5L1338.0 1306.6L1340.0 1307.9L1342.0 1308.5L1344.0 1309.1L1346.0 1310.0L1348.0 1310.2L1350.0 1310.4L1352.0 1311.0L1354.0 1309.5L1356.0 1311.4L1358.0 1309.3L1360.0 1310.3L1362.0 1309.1L1364.0 1309.1L1366.0 1307.5L1368.0 1306.0L1370.0 1306.5L1372.0 1305.0L1374.0 1304.0L1376.0 1303.2L1378.0 1303.1L1380.0 1302.4L1382.0 1301.5L1384.0 1300.0L1386.0 1300.7L1388.0 1301.0L1390.0 1302.3L1392.0 1301.4L1394.0 1301.1L1396.0 1302.2L1398.0 1301.4L1400.0 1301.7L1402.0 1302.0L1404.0 1301.0L1406.0 1303.0L1408.0 1302.9L1410.0 1302.6L1412.0 1302.3L1414.0 1303.5L1416.0 1304.6L1418.0 1303.4L1420.0 1303.4L1422.0 1304.7L1424.0 1303.5L1426.0 1303.3L1428.0 1304.8L1430.0 1304.8L1432.0 1305.3L1434.0 1305.3L1436.0 1306.1L1438.0 1306.0L1440.0 1305.9L1442.0 1306.3L1444.0 1307.3L1446.0 1307.7L1448.0 1307.9L1450.0 1308.0L1452.0 1306.1L1454.0 1307.3L1456.0 1308.0L1458.0 1308.7L1460.0 1307.6L1462.0 1310.0L1464.0 1309.4L1466.0 1309.0L1468.0 1309.8L1470.0 1309.7L1472.0 1309.6L1474.0 1310.7L1476.0 1310.3L1478.0 1309.8L1480.0 1310.6L1482.0 1311.1L1484.0 1310.6L1486.0 1312.5L1488.0 1311.0L1490.0 1313.2L1492.0 1312.7L1494.0 1311.6L1496.0 1312.5L1498.0 1313.3L1500.0 1312.5L1502.0 1311.9L1504.0 1312.9L1506.0 1314.3L1508.0 1311.9L1510.0 1313.4L1512.0 1313.1L1514.0 1313.0L1516.0 1312.9L1518.0 1313.0L1520.0 1314.1L1522.0 1313.8L1524.0 1312.8L1526.0 1314.6L1528.0 1312.7L1530.0 1314.1L1532.0 1313.8L1534.0 1314.6L1536.0 1314.1L1538.0 1314.6L1540.0 1313.9L1542.0 1314.6L1544.0 1314.3L1546.0 1315.6L1548.0 1313.6L1550.0 1315.0L1552.0 1314.5L1554.0 1314.4L1556.0 1313.9L1558.0 1314.6L1560.0 1313.3L1562.0 1313.4L1564.0 1314.9L1566.0 1313.4L1568.0 1315.5L1570.0 1314.3L1572.0 1314.7L1574.0 1314.6L1576.0 1314.9L1578.0 1314.4L1580.0 1314.4L1582.0 1314.6L1584.0 1315.4L1586.0 1315.5L1588.0 1315.6L1590.0 1315.0L1592.0 1314.6L1594.0 1313.6L1596.0 1315.2L1598.0 1315.3L1600.0 1314.5L1602.0 1315.3L1604.0 1315.7L1606.0 1314.8L1608.0 1315.5L1610.0 1314.9L1612.0 1313.5L1614.0 1314.4L1616.0 1314.4L1618.0 1315.1L1620.0 1314.1L1622.0 1314.4L1624.0 1314.0L1626.0 1314.6L1628.0 1314.7L1630.0 1315.3L1632.0 1315.2L1634.0 1314.7L1636.0 1314.8L1638.0 1314.7L1640.0 1314.6L1642.0 1315.6L1644.0 1312.9L1646.0 1314.4L1648.0 1314.7L1650.0 1315.3L1652.0 1313.7L1654.0 1314.7L1656.0 1315.0L1658.0 1314.1L1660.0 1313.1L1662.0 1314.1L1664.0 1313.5L1666.0 1314.8L1668.0 1313.8L1670.0 1315.6L1672.0 1314.4L1674.0 1313.8L1676.0 1314.0L1678.0 1313.5L1680.0 1314.6L1682.0 1315.3L1684.0 1314.1L1686.0 1314.9L1688.0 1313.6L1690.0 1314.5L1692.0 1315.8L1694.0 1313.3L1696.0 1315.1L1698.0 1315.1L1700.0 1312.9L1702.0 1313.3L1704.0 1313.6L1706.0 1315.0L1708.0 1314.0L1710.0 1314.3L1712.0 1314.9L1714.0 1314.5L1716.0 1314.6L1718.0 1314.3L1720.0 1315.4L1722.0 1314.1L1724.0 1315.9L1726.0 1314.5L1728.0 1314.3L1730.0 1315.4L1732.0 1315.3L1734.0 1313.7L1736.0 1315.3L1738.0 1314.3L1740.0 1314.7L1742.0 1315.9L1744.0 1314.9L1746.0 1315.8L1748.0 1315.4L1750.0 1317.1L1752.0 1315.7L1754.0 1315.1L1756.0 1315.2L1758.0 1315.4L1760.0 1316.2L1762.0 1316.2L1764.0 1317.0L1766.0 1316.5L1768.0 1316.6L1770.0 1316.8L1772.0 1316.6L1774.0 1317.0L1776.0 1317.4L1778.0 1317.5L1780.0 1316.6L1782.0 1315.9L1784.0 1316.6L1786.0 1317.4L1788.0 1315.7L1790.0 1317.1L1792.0 1317.8L1794.0 1317.1L1796.0 1316.8L1798.0 1318.9L1800.0 1318.6L1802.0 1317.5L1804.0 1318.7L1806.0 1318.7L1808.0 1317.0L1810.0 1319.4L1812.0 1317.2L1814.0 1317.7L1816.0 1317.2L1818.0 1318.0L1820.0 1317.0L1822.0 1317.9L1824.0 1318.7L1826.0 1318.0L1828.0 1317.6L1830.0 1318.8L1832.0 1317.0L1834.0 1318.2L1836.0 1317.2L1838.0 1317.4L1840.0 1317.1L1842.0 1317.0L1844.0 1316.7L1846.0 1316.0L1848.0 1315.9L1850.0 1316.5L1852.0 1315.9L1854.0 1314.9L1856.0 1315.0L1858.0 1314.8L1860.0 1315.0L1862.0 1315.0L1864.0 1314.7L1866.0 1313.9L1868.0 1314.2L1870.0 1313.0L1872.0 1312.1L1874.0 1313.5L1876.0 1312.2L1878.0 1312.5L1880.0 1312.1L1882.0 1313.2L1884.0 1311.8L1886.0 1312.7L1888.0 1312.0L1890.0 1311.3L1892.0 1311.0L1894.0 1312.3L1896.0 1312.1L1898.0 1312.4L1900.0 1313.0L1902.0 1311.9L1904.0 1311.9L1906.0 1311.6L1908.0 1311.8L1910.0 1311.5L1912.0 1311.1L1914.0 1313.2L1916.0 1310.5L1918.0 1312.0L1920.0 1312.2L1922.0 1312.0L1924.0 1311.3L1926.0 1311.9L1928.0 1311.8L1930.0 1311.4L1932.0 1312.2L1934.0 1312.0L1936.0 1312.0L1938.0 1312.9L1940.0 1311.8L1942.0 1313.0L1944.0 1312.3L1946.0 1313.2L1948.0 1313.0L1950.0 1313.3L1952.0 1312.6L1954.0 1312.8L1956.0 1312.9L1958.0 1313.8L1960.0 1314.3L1962.0 1314.7L1964.0 1313.8L1966.0 1314.4L1968.0 1313.4L1970.0 1313.1L1972.0 1314.3L1974.0 1314.6L1976.0 1314.2L1978.0 1314.2L1980.0 1316.1L1982.0 1315.3L1984.0 1315.0L1986.0 1318.0L1988.0 1316.7L1990.0 1316.6L1992.0 1317.6L1994.0 1316.8L1996.0 1318.8L1998.0 1316.8L2000.0 1317.3L2002.0 1318.4L2004.0 1318.2L2006.0 1320.1L2008.0 1318.3L2010.0 1319.2L2012.0 1320.2L2014.0 1320.8" stroke="#525252"/>
</g>
<g fill="#0000FF"><path d="M517.8 1483.5V1375.0Q521.4 1372.7 525.0 1375.0V1483.5Z"/><path d="M672.3 1483.5V1330.8Q675.9 1328.5 679.5 1330.8V1483.5Z"/><path d="M742.2 1483.5V1397.1Q745.8 1394.8 749.4 1397.1V1483.5Z"/><path d="M980.6 1483.5V1407.6Q984.2 1405.3 987.8 1407.6V1483.5Z"/><path d="M1130.5 1483.5V1447.7Q1134.1 1445.4 1137.7 1447.7V1483.5Z"/><path d="M1167.7 1483.5V1420.7Q1171.3 1418.4 1174.9 1420.7V1483.5Z"/><path d="M1172.4 1483.5V1446.8Q1176.0 1444.5 1179.6 1446.8V1483.5Z"/><path d="M1301.4 1483.5V1439.4Q1305.0 1437.1 1308.6 1439.4V1483.5Z"/><path d="M1295.6 1483.5V1456.4Q1299.2 1454.1 1302.8 1456.4V1483.5Z"/><path d="M1087.8 1483.5V1474.8Q1091.4 1472.5 1095.0 1474.8V1483.5Z"/><path d="M1381.8 1483.5V1465.7Q1385.4 1463.4 1389.0 1465.7V1483.5Z"/><path d="M1422.0 1483.5V1470.9Q1425.6 1468.6 1429.2 1470.9V1483.5Z"/><path d="M1474.7 1483.5V1473.8Q1478.3 1471.5 1481.9 1473.8V1483.5Z"/><path d="M1579.7 1483.5V1467.6Q1583.3 1465.3 1586.9 1467.6V1483.5Z"/><path d="M1658.4 1483.5V1473.5Q1662.0 1471.2 1665.6 1473.5V1483.5Z"/><path d="M1665.0 1483.5V1476.3Q1668.6 1474.0 1672.2 1476.3V1483.5Z"/><path d="M1691.7 1483.5V1473.8Q1695.3 1471.5 1698.9 1473.8V1483.5Z"/><path d="M1816.4 1483.5V1475.0Q1820.0 1472.7 1823.6 1475.0V1483.5Z"/><path d="M1823.4 1483.5V1475.0Q1827.0 1472.7 1830.6 1475.0V1483.5Z"/><path d="M1870.0 1483.5V1476.5Q1873.6 1474.2 1877.2 1476.5V1483.5Z"/><path d="M1896.4 1483.5V1470.7Q1900.0 1468.4 1903.6 1470.7V1483.5Z"/><path d="M1902.4 1483.5V1473.5Q1906.0 1471.2 1909.6 1473.5V1483.5Z"/><path d="M1930.8 1483.5V1473.6Q1934.4 1471.3 1938.0 1473.6V1483.5Z"/><path d="M424.6 1483.5V1476.1Q428.2 1473.8 431.8 1476.1V1483.5Z"/><path d="M647.9 1483.5V1476.7Q651.5 1474.4 655.1 1476.7V1483.5Z"/><path d="M654.1 1483.5V1476.7Q657.7 1474.4 661.3 1476.7V1483.5Z"/><path d="M702.2 1483.5V1475.4Q705.8 1473.1 709.4 1475.4V1483.5Z"/><path d="M847.9 1483.5V1475.4Q851.5 1473.1 855.1 1475.4V1483.5Z"/><path d="M242.0 1483.5L244.2 1478.8H247.8L250.0 1483.5Z"/><path d="M333.5 1483.5L335.7 1478.8H339.3L341.5 1483.5Z"/><path d="M609.5 1483.5L611.7 1478.8H615.3L617.5 1483.5Z"/><path d="M794.4 1483.5L796.6 1478.8H800.2L802.4 1483.5Z"/><path d="M892.9 1483.5L895.1 1478.8H898.7L900.9 1483.5Z"/><path d="M910.5 1483.5L912.7 1478.8H916.3L918.5 1483.5Z"/><path d="M1052.8 1483.5L1055.0 1478.8H1058.6L1060.8 1483.5Z"/><path d="M1183.8 1483.5L1186.0 1478.8H1189.6L1191.8 1483.5Z"/><path d="M1210.8 1483.5L1213.0 1478.8H1216.6L1218.8 1483.5Z"/><path d="M1227.7 1483.5L1229.9 1478.8H1233.5L1235.7 1483.5Z"/><path d="M1261.5 1483.5L1263.7 1478.8H1267.3L1269.5 1483.5Z"/><path d="M1285.7 1483.5L1287.9 1478.8H1291.5L1293.7 1483.5Z"/><path d="M1347.0 1483.5L1349.2 1478.8H1352.8L1355.0 1483.5Z"/><path d="M1369.7 1483.5L1371.9 1478.8H1375.5L1377.7 1483.5Z"/><path d="M1398.3 1483.5L1400.5 1478.8H1404.1L1406.3 1483.5Z"/><path d="M1454.1 1483.5L1456.3 1478.8H1459.9L1462.1 1483.5Z"/><path d="M1491.4 1483.5L1493.6 1478.8H1497.2L1499.4 1483.5Z"/><path d="M1530.4 1483.5L1532.6 1478.8H1536.2L1538.4 1483.5Z"/><path d="M1567.6 1483.5L1569.8 1478.8H1573.4L1575.6 1483.5Z"/><path d="M1631.9 1483.5L1634.1 1478.8H1637.7L1639.9 1483.5Z"/><path d="M1705.8 1483.5L1708.0 1478.8H1711.6L1713.8 1483.5Z"/><path d="M1734.3 1483.5L1736.5 1478.8H1740.1L1742.3 1483.5Z"/><path d="M1752.2 1483.5L1754.4 1478.8H1758.0L1760.2 1483.5Z"/><path d="M1636.0 1483.5L1638.2 1478.8H1641.8L1644.0 1483.5Z"/><path d="M1836.0 1483.5L1838.2 1478.8H1841.8L1844.0 1483.5Z"/><path d="M1885.0 1483.5L1887.2 1478.8H1890.8L1893.0 1483.5Z"/><path d="M1958.0 1483.5L1960.2 1478.8H1963.8L1966.0 1483.5Z"/><path d="M1976.0 1483.5L1978.2 1478.8H1981.8L1984.0 1483.5Z"/></g>
<g fill="#FF0000"><path d="M264.0 1483.5V1331.3Q268.0 1328.3 272.0 1331.3V1483.5Z"/><path d="M572.0 1483.5V1405.7Q576.0 1402.7 580.0 1405.7V1483.5Z"/><path d="M823.9 1483.5V1361.3Q827.9 1358.3 831.9 1361.3V1483.5Z"/><path d="M863.0 1483.5V1361.3Q867.0 1358.3 871.0 1361.3V1483.5Z"/><path d="M958.8 1483.5V1406.1Q962.8 1403.1 966.8 1406.1V1483.5Z"/><path d="M1015.9 1483.5V1361.3Q1019.9 1358.3 1023.9 1361.3V1483.5Z"/><path d="M1198.0 1483.5V1467.2Q1202.0 1464.2 1206.0 1467.2V1483.5Z"/><path d="M1483.7 1483.5V1375.8Q1487.7 1372.8 1491.7 1375.8V1483.5Z"/><path d="M1515.7 1483.5V1473.9Q1519.7 1470.9 1523.7 1473.9V1483.5Z"/><path d="M1599.8 1483.5V1473.9Q1603.8 1470.9 1607.8 1473.9V1483.5Z"/><path d="M1722.0 1483.5V1421.1Q1726.0 1418.1 1730.0 1421.1V1483.5Z"/><path d="M1767.0 1483.5V1467.0Q1771.0 1464.0 1775.0 1467.0V1483.5Z"/></g>
</svg>
</body></html>
